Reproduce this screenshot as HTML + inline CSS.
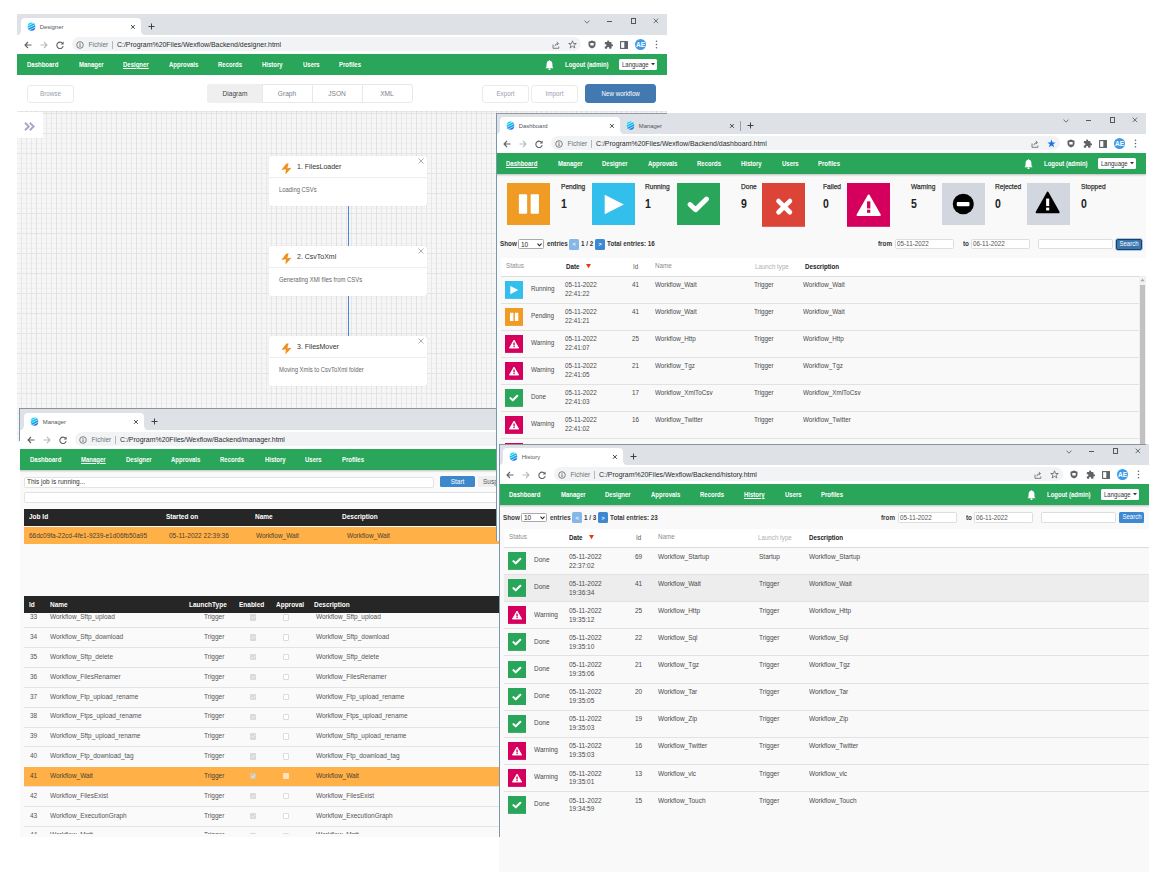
<!DOCTYPE html><html><head><meta charset="utf-8"><title>Wexflow</title><style>
*{margin:0;padding:0;box-sizing:content-box}
html,body{width:1159px;height:874px;overflow:hidden;background:#fff}
body{position:relative;font-family:"Liberation Sans",Arial,sans-serif}
.win{position:absolute;overflow:hidden}
.win div,.win svg{position:absolute}
.t{white-space:nowrap}
</style></head><body><div class="win" style="left:17px;top:14px;width:650px;height:428px;z-index:1;"><div style="left:0px;top:61px;width:650px;height:367px;background:#f6f6f6;background-image:linear-gradient(to right, #e1e1e1 1px, transparent 1px),linear-gradient(to bottom, #e3e3e3 1px, transparent 1px),linear-gradient(to right, #e7e7e7 1px, transparent 1px),linear-gradient(to bottom, #f0f0f0 1px, transparent 1px);background-size:20px 20px,20px 20px,5px 5px,5px 5px;background-position:-1px -2px,-1px -2px,-1px -2px,-1px -2px"></div><div style="left:0px;top:0px;width:650px;height:21px;background:#dee1e6"></div><div style="left:4px;top:4px;width:120px;height:18px;background:#fff;border-radius:4px 4px 0 0"></div><svg style="left:0px;top:16px;" width="5" height="5" viewBox="0 0 5 5"><path d="M0 5 Q4 5 4 0 L5 0 L5 5 Z" fill="#fff"/></svg><svg style="left:123px;top:16px;" width="5" height="5" viewBox="0 0 5 5"><path d="M5 5 Q1 5 1 0 L0 0 L0 5 Z" fill="#fff"/></svg><svg style="left:10px;top:8px;" width="9" height="9" viewBox="0 0 9 9"><defs><linearGradient id="wg1" x1="0.2" y1="0" x2="0.7" y2="1"><stop offset="0" stop-color="#10ecef"/><stop offset="1" stop-color="#1a66e6"/></linearGradient></defs><ellipse cx="4.5" cy="4.7" rx="3.8" ry="4.1" fill="url(#wg1)"/><path d="M0.4 4.2 L7.2 0.6 M0.4 6.6 L8.6 2.4 M1.6 8.6 L8.6 4.9" stroke="#fff" stroke-width="0.7" fill="none" opacity="0.9"/></svg><div class="t" style="left:22.8px;top:9.77px;font-size:5.9px;line-height:7.67px;color:#505459;font-weight:400;font-family:'Liberation Sans', Arial, sans-serif;">Designer</div><svg style="left:113.3px;top:10.3px;" width="6" height="6" viewBox="0 0 6 6"><path d="M1 1 L4.8 4.8 M4.8 1 L1 4.8" stroke="#3c4043" stroke-width="0.95"/></svg><svg style="left:130.9px;top:8.7px;" width="7" height="7" viewBox="0 0 7 7"><path d="M3.5 0.5 V6.5 M0.5 3.5 H6.5" stroke="#3c4043" stroke-width="1"/></svg><svg style="left:567px;top:5.5px;" width="6" height="4" viewBox="0 0 6 4"><path d="M0.5 0.6 L3 3.2 L5.5 0.6" stroke="#55585c" stroke-width="0.8" fill="none"/></svg><div style="left:589.5px;top:7.2px;width:5.2px;height:0.9px;background:#55585c"></div><div style="left:614px;top:4.4px;width:3px;height:3.8px;border:0.9px solid #55585c"></div><svg style="left:635.8px;top:4.4px;" width="6" height="6" viewBox="0 0 6 6"><path d="M0.7 0.7 L5.1 5.1 M5.1 0.7 L0.7 5.1" stroke="#55585c" stroke-width="0.85"/></svg><div style="left:0px;top:21px;width:650px;height:19px;background:#fff"></div><svg style="left:7px;top:26.6px;" width="8" height="8" viewBox="0 0 8 8"><path d="M7.5 4 H1.2 M4 1 L1 4 L4 7" stroke="#5f6368" stroke-width="1.1" fill="none"/></svg><svg style="left:23px;top:26.6px;" width="8" height="8" viewBox="0 0 8 8"><path d="M0.5 4 H6.8 M4 1 L7 4 L4 7" stroke="#b9bcbf" stroke-width="1.1" fill="none"/></svg><svg style="left:39px;top:26.6px;" width="8" height="8" viewBox="0 0 8 8"><path d="M6.6 2.4 A3.2 3.2 0 1 0 7.2 5" stroke="#5f6368" stroke-width="1.1" fill="none"/><path d="M7.6 0.6 V3.4 H4.8 Z" fill="#5f6368"/></svg><div style="left:55px;top:23px;width:509px;height:14px;background:#f1f3f4;border-radius:7px"></div><svg style="left:58.5px;top:26.5px;" width="8" height="8" viewBox="0 0 8 8"><circle cx="4" cy="4" r="3.3" stroke="#5f6368" stroke-width="0.8" fill="none"/><path d="M4 3.3 V6" stroke="#5f6368" stroke-width="0.9"/><circle cx="4" cy="2.2" r="0.5" fill="#5f6368"/></svg><div class="t" style="left:71.5px;top:26.71px;font-size:6.6px;line-height:8.58px;color:#6f7378;font-weight:400;font-family:'Liberation Sans', Arial, sans-serif;">Fichier</div><div style="left:95px;top:26.5px;width:0.7px;height:8px;background:#b4b8bc"></div><div class="t" style="left:100px;top:25.98px;font-size:6.95px;line-height:9.04px;color:#2a2b2e;font-weight:400;font-family:'Liberation Sans', Arial, sans-serif;">C:/Program%20Files/Wexflow/Backend/designer.html</div><svg style="left:535px;top:26.5px;" width="8" height="8" viewBox="0 0 8 8"><path d="M1 3.5 V7.3 H6.8 V5.5" stroke="#5f6368" stroke-width="0.8" fill="none"/><path d="M2.8 5.2 Q3.2 2.6 6 2.6 M4.8 1 L6.6 2.6 L4.8 4.2" stroke="#5f6368" stroke-width="0.8" fill="none"/></svg><svg style="left:550.5px;top:26px;z-index:1" width="9" height="9" viewBox="0 0 9 9"><path d="M4.5 0.8 L5.5 3.5 L8.3 3.5 L6 5.2 L6.9 8 L4.5 6.3 L2.1 8 L3 5.2 L0.7 3.5 L3.5 3.5 Z" stroke="#5f6368" stroke-width="0.8" fill="none" stroke-linejoin="round"/></svg><svg style="left:571px;top:26px;" width="8" height="9" viewBox="0 0 8 9"><path d="M4 0.5 L7.5 1.8 V4.5 Q7.5 7.3 4 8.5 Q0.5 7.3 0.5 4.5 V1.8 Z" fill="#5f6368"/><rect x="2.3" y="3" width="3.4" height="2.4" rx="0.5" fill="#fff"/></svg><svg style="left:586.5px;top:25.8px" width="9.5" height="9.5" viewBox="0 0 24 24"><path d="M20.5 11H19V7c0-1.1-.9-2-2-2h-4V3.5C13 2.12 11.88 1 10.5 1S8 2.120 8 3.5V5H4c-1.1 0-1.99.9-1.99 2v3.8H3.5c1.49 0 2.7 1.21 2.7 2.7s-1.21 2.7-2.7 2.7H2V20c0 1.1.9 2 2 2h3.8v-1.5c0-1.49 1.21-2.7 2.7-2.7 1.490 0 2.7 1.21 2.7 2.7V22H17c1.1 0 2-.9 2-2v-4h1.5c1.38 0 2.5-1.12 2.5-2.5S21.88 11 20.5 11z" fill="#5f6368"/></svg><svg style="left:603px;top:26.5px;" width="8" height="8" viewBox="0 0 8 8"><rect x="0.6" y="0.6" width="6.8" height="6.8" stroke="#5f6368" stroke-width="1.1" fill="none"/><rect x="4.3" y="0.6" width="3.1" height="6.8" fill="#5f6368"/></svg><svg style="left:617.5px;top:25px;" width="11" height="11" viewBox="0 0 11 11"><circle cx="5.5" cy="5.5" r="5.5" fill="#3d9be9"/><text x="5.5" y="8" font-size="6.5" text-anchor="middle" fill="#fff" font-family="Liberation Sans" font-weight="700">AE</text></svg><svg style="left:637.5px;top:26px;" width="3" height="9" viewBox="0 0 3 9"><circle cx="1.5" cy="1.2" r="0.8" fill="#5f6368"/><circle cx="1.5" cy="4.5" r="0.8" fill="#5f6368"/><circle cx="1.5" cy="7.8" r="0.8" fill="#5f6368"/></svg><div style="left:0px;top:40px;width:650px;height:21px;background:#2aa65a;box-shadow:0 1px 2px rgba(0,0,0,0.25)"></div><div class="t" style="left:10.3px;top:46.86px;font-size:6.82px;line-height:8.87px;color:#fff;font-weight:700;font-family:'Liberation Sans', Arial, sans-serif;transform:scaleX(0.88);transform-origin:0 50%;">Dashboard</div><div class="t" style="left:61.5px;top:46.86px;font-size:6.82px;line-height:8.87px;color:#fff;font-weight:700;font-family:'Liberation Sans', Arial, sans-serif;transform:scaleX(0.88);transform-origin:0 50%;">Manager</div><div class="t" style="left:106.4px;top:46.86px;font-size:6.82px;line-height:8.87px;color:#fff;font-weight:700;font-family:'Liberation Sans', Arial, sans-serif;transform:scaleX(0.88);transform-origin:0 50%;text-decoration:underline;text-underline-offset:1px;text-decoration-thickness:0.6px">Designer</div><div class="t" style="left:152px;top:46.86px;font-size:6.82px;line-height:8.87px;color:#fff;font-weight:700;font-family:'Liberation Sans', Arial, sans-serif;transform:scaleX(0.88);transform-origin:0 50%;">Approvals</div><div class="t" style="left:201.2px;top:46.86px;font-size:6.82px;line-height:8.87px;color:#fff;font-weight:700;font-family:'Liberation Sans', Arial, sans-serif;transform:scaleX(0.88);transform-origin:0 50%;">Records</div><div class="t" style="left:245.4px;top:46.86px;font-size:6.82px;line-height:8.87px;color:#fff;font-weight:700;font-family:'Liberation Sans', Arial, sans-serif;transform:scaleX(0.88);transform-origin:0 50%;">History</div><div class="t" style="left:285.9px;top:46.86px;font-size:6.82px;line-height:8.87px;color:#fff;font-weight:700;font-family:'Liberation Sans', Arial, sans-serif;transform:scaleX(0.88);transform-origin:0 50%;">Users</div><div class="t" style="left:322.4px;top:46.86px;font-size:6.82px;line-height:8.87px;color:#fff;font-weight:700;font-family:'Liberation Sans', Arial, sans-serif;transform:scaleX(0.88);transform-origin:0 50%;">Profiles</div><svg style="left:528px;top:45.6px;" width="9" height="10.4" viewBox="0 0 9 10.4"><path d="M4.5 0.8 Q7.6 1 7.4 4.6 L7.6 7.2 L8.6 8.2 H0.4 L1.4 7.2 L1.6 4.6 Q1.4 1 4.5 0.8 Z" fill="#fff"/><circle cx="4.5" cy="9.2" r="1" fill="#fff"/><circle cx="4.5" cy="0.9" r="0.7" fill="#fff"/></svg><div class="t" style="left:548px;top:46.86px;font-size:6.82px;line-height:8.87px;color:#fff;font-weight:700;font-family:'Liberation Sans', Arial, sans-serif;transform:scaleX(0.88);transform-origin:0 50%;">Logout (admin)</div><div style="left:602px;top:45px;width:38px;height:10.6px;background:#fff;border-radius:1.5px"></div><div class="t" style="left:605.4px;top:46.77px;font-size:6.82px;line-height:8.87px;color:#333;font-weight:400;font-family:'Liberation Sans', Arial, sans-serif;transform:scaleX(0.88);transform-origin:0 50%;">Language</div><svg style="left:633.5px;top:49.3px;" width="4" height="3" viewBox="0 0 4 3"><path d="M0 0 H4 L2 2.2 Z" fill="#333"/></svg><div style="left:0px;top:61px;width:650px;height:36px;background:#fff;box-shadow:0 1px 1px rgba(0,0,0,0.06)"></div><div style="left:10.4px;top:70.5px;width:47px;height:18px;background:#fff;border:1px solid #ebebeb;border-radius:3px;box-sizing:border-box"></div><div class="t" style="left:10.399999999999999px;top:75.64px;width:47px;text-align:center;font-size:7.16px;line-height:9.31px;color:#98a0b0;font-weight:400;font-family:'Liberation Sans', Arial, sans-serif;transform:scaleX(0.88);transform-origin:50% 50%;">Browse</div><div style="left:189.6px;top:70.3px;width:206px;height:18.7px;background:#fff;border:1px solid #e8e8e8;border-radius:3px;box-sizing:border-box"></div><div style="left:189.6px;top:70.3px;width:55.4px;height:18.7px;background:#efefef;border-radius:3px 0 0 3px"></div><div style="left:245px;top:70.3px;width:1px;height:18.7px;background:#e8e8e8"></div><div style="left:294.5px;top:70.3px;width:1px;height:18.7px;background:#e8e8e8"></div><div style="left:344.8px;top:70.3px;width:1px;height:18.7px;background:#e8e8e8"></div><div class="t" style="left:117.5px;top:75.42px;width:200px;text-align:center;font-size:7.5px;line-height:9.75px;color:#444;font-weight:400;font-family:'Liberation Sans', Arial, sans-serif;transform:scaleX(0.88);transform-origin:50% 50%;">Diagram</div><div class="t" style="left:170.0px;top:75.42px;width:200px;text-align:center;font-size:7.5px;line-height:9.75px;color:#7a7f8a;font-weight:400;font-family:'Liberation Sans', Arial, sans-serif;transform:scaleX(0.88);transform-origin:50% 50%;">Graph</div><div class="t" style="left:220.0px;top:75.42px;width:200px;text-align:center;font-size:7.5px;line-height:9.75px;color:#7a7f8a;font-weight:400;font-family:'Liberation Sans', Arial, sans-serif;transform:scaleX(0.88);transform-origin:50% 50%;">JSON</div><div class="t" style="left:270.3px;top:75.42px;width:200px;text-align:center;font-size:7.5px;line-height:9.75px;color:#7a7f8a;font-weight:400;font-family:'Liberation Sans', Arial, sans-serif;transform:scaleX(0.88);transform-origin:50% 50%;">XML</div><div style="left:464.7px;top:70.5px;width:47px;height:18px;background:#fff;border:1px solid #ebebeb;border-radius:3px;box-sizing:border-box"></div><div class="t" style="left:464.7px;top:75.64px;width:47px;text-align:center;font-size:7.16px;line-height:9.31px;color:#98a0b0;font-weight:400;font-family:'Liberation Sans', Arial, sans-serif;transform:scaleX(0.88);transform-origin:50% 50%;">Export</div><div style="left:513.7px;top:70.5px;width:47px;height:18px;background:#fff;border:1px solid #ebebeb;border-radius:3px;box-sizing:border-box"></div><div class="t" style="left:513.7px;top:75.64px;width:47px;text-align:center;font-size:7.16px;line-height:9.31px;color:#98a0b0;font-weight:400;font-family:'Liberation Sans', Arial, sans-serif;transform:scaleX(0.88);transform-origin:50% 50%;">Import</div><div style="left:568px;top:70px;width:71.4px;height:19px;background:#4279b0;border:1px solid #4279b0;border-radius:3px;box-sizing:border-box"></div><div class="t" style="left:568.0px;top:74.62px;width:71.4px;text-align:center;font-size:7.05px;line-height:9.17px;color:#fff;font-weight:400;font-family:'Liberation Sans', Arial, sans-serif;transform:scaleX(0.88);transform-origin:50% 50%;">New workflow</div><div style="left:0px;top:98px;width:26px;height:26px;background:#fff;border-radius:0 2px 2px 0"></div><svg style="left:7px;top:107.5px;" width="12" height="9" viewBox="0 0 12 9"><path d="M1 0.8 L4.8 4.5 L1 8.2 M5.8 0.8 L9.6 4.5 L5.8 8.2" stroke="#a3a8c8" stroke-width="1.9" fill="none"/></svg><div style="left:252px;top:142px;width:158px;height:50px;background:#fff;border-radius:3px;box-shadow:0 0 2px rgba(0,0,0,0.08)"></div><div style="left:252px;top:162.9px;width:158px;height:0.8px;background:#ededed"></div><svg style="left:264px;top:149.2px;" width="11" height="12" viewBox="0 0 11 12"><path d="M5.4 0.4 L0.4 6.9 L4.9 6.2 L4.4 11.4 L10.6 4.7 L6.3 5.3 L7.6 0.4 Z" fill="#ef8f1f"/></svg><div class="t" style="left:280px;top:147.83px;font-size:7.95px;line-height:10.34px;color:#333;font-weight:400;font-family:'Liberation Sans', Arial, sans-serif;transform:scaleX(0.88);transform-origin:0 50%;">1. FilesLoader</div><svg style="left:400.5px;top:144px;" width="6" height="6" viewBox="0 0 6 6"><path d="M0.5 0.5 L5.5 5.5 M5.5 0.5 L0.5 5.5" stroke="#999" stroke-width="0.8"/></svg><div class="t" style="left:262px;top:171.84px;font-size:6.7px;line-height:8.71px;color:#666;font-weight:400;font-family:'Liberation Sans', Arial, sans-serif;transform:scaleX(0.88);transform-origin:0 50%;">Loading CSVs</div><div style="left:331px;top:191.5px;width:1px;height:40.5px;background:#4a86e0"></div><div style="left:252px;top:232px;width:158px;height:50px;background:#fff;border-radius:3px;box-shadow:0 0 2px rgba(0,0,0,0.08)"></div><div style="left:252px;top:252.9px;width:158px;height:0.8px;background:#ededed"></div><svg style="left:264px;top:239.2px;" width="11" height="12" viewBox="0 0 11 12"><path d="M5.4 0.4 L0.4 6.9 L4.9 6.2 L4.4 11.4 L10.6 4.7 L6.3 5.3 L7.6 0.4 Z" fill="#ef8f1f"/></svg><div class="t" style="left:280px;top:237.83px;font-size:7.95px;line-height:10.34px;color:#333;font-weight:400;font-family:'Liberation Sans', Arial, sans-serif;transform:scaleX(0.88);transform-origin:0 50%;">2. CsvToXml</div><svg style="left:400.5px;top:234px;" width="6" height="6" viewBox="0 0 6 6"><path d="M0.5 0.5 L5.5 5.5 M5.5 0.5 L0.5 5.5" stroke="#999" stroke-width="0.8"/></svg><div class="t" style="left:262px;top:261.84px;font-size:6.7px;line-height:8.71px;color:#666;font-weight:400;font-family:'Liberation Sans', Arial, sans-serif;transform:scaleX(0.88);transform-origin:0 50%;">Generating XMl files from CSVs</div><div style="left:331px;top:281.5px;width:1px;height:40.5px;background:#4a86e0"></div><div style="left:252px;top:322px;width:158px;height:50px;background:#fff;border-radius:3px;box-shadow:0 0 2px rgba(0,0,0,0.08)"></div><div style="left:252px;top:342.9px;width:158px;height:0.8px;background:#ededed"></div><svg style="left:264px;top:329.2px;" width="11" height="12" viewBox="0 0 11 12"><path d="M5.4 0.4 L0.4 6.9 L4.9 6.2 L4.4 11.4 L10.6 4.7 L6.3 5.3 L7.6 0.4 Z" fill="#ef8f1f"/></svg><div class="t" style="left:280px;top:327.83px;font-size:7.95px;line-height:10.34px;color:#333;font-weight:400;font-family:'Liberation Sans', Arial, sans-serif;transform:scaleX(0.88);transform-origin:0 50%;">3. FilesMover</div><svg style="left:400.5px;top:324px;" width="6" height="6" viewBox="0 0 6 6"><path d="M0.5 0.5 L5.5 5.5 M5.5 0.5 L0.5 5.5" stroke="#999" stroke-width="0.8"/></svg><div class="t" style="left:262px;top:351.84px;font-size:6.7px;line-height:8.71px;color:#666;font-weight:400;font-family:'Liberation Sans', Arial, sans-serif;transform:scaleX(0.88);transform-origin:0 50%;">Moving Xmls to CsvToXml folder</div></div><div class="win" style="left:20px;top:409px;width:650px;height:428px;z-index:2;"><div style="left:0px;top:0px;width:650px;height:429px;background:#fafafa"></div><div style="left:0px;top:0px;width:650px;height:21px;background:#dee1e6"></div><div style="left:4px;top:4px;width:120px;height:18px;background:#fff;border-radius:4px 4px 0 0"></div><svg style="left:0px;top:16px;" width="5" height="5" viewBox="0 0 5 5"><path d="M0 5 Q4 5 4 0 L5 0 L5 5 Z" fill="#fff"/></svg><svg style="left:123px;top:16px;" width="5" height="5" viewBox="0 0 5 5"><path d="M5 5 Q1 5 1 0 L0 0 L0 5 Z" fill="#fff"/></svg><svg style="left:10px;top:8px;" width="9" height="9" viewBox="0 0 9 9"><defs><linearGradient id="wg2" x1="0.2" y1="0" x2="0.7" y2="1"><stop offset="0" stop-color="#10ecef"/><stop offset="1" stop-color="#1a66e6"/></linearGradient></defs><ellipse cx="4.5" cy="4.7" rx="3.8" ry="4.1" fill="url(#wg2)"/><path d="M0.4 4.2 L7.2 0.6 M0.4 6.6 L8.6 2.4 M1.6 8.6 L8.6 4.9" stroke="#fff" stroke-width="0.7" fill="none" opacity="0.9"/></svg><div class="t" style="left:22.8px;top:9.77px;font-size:5.9px;line-height:7.67px;color:#505459;font-weight:400;font-family:'Liberation Sans', Arial, sans-serif;">Manager</div><svg style="left:113.3px;top:10.3px;" width="6" height="6" viewBox="0 0 6 6"><path d="M1 1 L4.8 4.8 M4.8 1 L1 4.8" stroke="#3c4043" stroke-width="0.95"/></svg><svg style="left:130.9px;top:8.7px;" width="7" height="7" viewBox="0 0 7 7"><path d="M3.5 0.5 V6.5 M0.5 3.5 H6.5" stroke="#3c4043" stroke-width="1"/></svg><svg style="left:567px;top:5.5px;" width="6" height="4" viewBox="0 0 6 4"><path d="M0.5 0.6 L3 3.2 L5.5 0.6" stroke="#55585c" stroke-width="0.8" fill="none"/></svg><div style="left:589.5px;top:7.2px;width:5.2px;height:0.9px;background:#55585c"></div><div style="left:614px;top:4.4px;width:3px;height:3.8px;border:0.9px solid #55585c"></div><svg style="left:635.8px;top:4.4px;" width="6" height="6" viewBox="0 0 6 6"><path d="M0.7 0.7 L5.1 5.1 M5.1 0.7 L0.7 5.1" stroke="#55585c" stroke-width="0.85"/></svg><div style="left:0px;top:21px;width:650px;height:19px;background:#fff"></div><svg style="left:7px;top:26.6px;" width="8" height="8" viewBox="0 0 8 8"><path d="M7.5 4 H1.2 M4 1 L1 4 L4 7" stroke="#5f6368" stroke-width="1.1" fill="none"/></svg><svg style="left:23px;top:26.6px;" width="8" height="8" viewBox="0 0 8 8"><path d="M0.5 4 H6.8 M4 1 L7 4 L4 7" stroke="#b9bcbf" stroke-width="1.1" fill="none"/></svg><svg style="left:39px;top:26.6px;" width="8" height="8" viewBox="0 0 8 8"><path d="M6.6 2.4 A3.2 3.2 0 1 0 7.2 5" stroke="#5f6368" stroke-width="1.1" fill="none"/><path d="M7.6 0.6 V3.4 H4.8 Z" fill="#5f6368"/></svg><div style="left:55px;top:23px;width:509px;height:14px;background:#f1f3f4;border-radius:7px"></div><svg style="left:58.5px;top:26.5px;" width="8" height="8" viewBox="0 0 8 8"><circle cx="4" cy="4" r="3.3" stroke="#5f6368" stroke-width="0.8" fill="none"/><path d="M4 3.3 V6" stroke="#5f6368" stroke-width="0.9"/><circle cx="4" cy="2.2" r="0.5" fill="#5f6368"/></svg><div class="t" style="left:71.5px;top:26.71px;font-size:6.6px;line-height:8.58px;color:#6f7378;font-weight:400;font-family:'Liberation Sans', Arial, sans-serif;">Fichier</div><div style="left:95px;top:26.5px;width:0.7px;height:8px;background:#b4b8bc"></div><div class="t" style="left:100px;top:25.98px;font-size:6.95px;line-height:9.04px;color:#2a2b2e;font-weight:400;font-family:'Liberation Sans', Arial, sans-serif;">C:/Program%20Files/Wexflow/Backend/manager.html</div><svg style="left:535px;top:26.5px;" width="8" height="8" viewBox="0 0 8 8"><path d="M1 3.5 V7.3 H6.8 V5.5" stroke="#5f6368" stroke-width="0.8" fill="none"/><path d="M2.8 5.2 Q3.2 2.6 6 2.6 M4.8 1 L6.6 2.6 L4.8 4.2" stroke="#5f6368" stroke-width="0.8" fill="none"/></svg><svg style="left:550.5px;top:26px;z-index:1" width="9" height="9" viewBox="0 0 9 9"><path d="M4.5 0.8 L5.5 3.5 L8.3 3.5 L6 5.2 L6.9 8 L4.5 6.3 L2.1 8 L3 5.2 L0.7 3.5 L3.5 3.5 Z" stroke="#5f6368" stroke-width="0.8" fill="none" stroke-linejoin="round"/></svg><svg style="left:571px;top:26px;" width="8" height="9" viewBox="0 0 8 9"><path d="M4 0.5 L7.5 1.8 V4.5 Q7.5 7.3 4 8.5 Q0.5 7.3 0.5 4.5 V1.8 Z" fill="#5f6368"/><rect x="2.3" y="3" width="3.4" height="2.4" rx="0.5" fill="#fff"/></svg><svg style="left:586.5px;top:25.8px" width="9.5" height="9.5" viewBox="0 0 24 24"><path d="M20.5 11H19V7c0-1.1-.9-2-2-2h-4V3.5C13 2.12 11.88 1 10.5 1S8 2.120 8 3.5V5H4c-1.1 0-1.99.9-1.99 2v3.8H3.5c1.49 0 2.7 1.21 2.7 2.7s-1.21 2.7-2.7 2.7H2V20c0 1.1.9 2 2 2h3.8v-1.5c0-1.49 1.21-2.7 2.7-2.7 1.490 0 2.7 1.21 2.7 2.7V22H17c1.1 0 2-.9 2-2v-4h1.5c1.38 0 2.5-1.12 2.5-2.5S21.88 11 20.5 11z" fill="#5f6368"/></svg><svg style="left:603px;top:26.5px;" width="8" height="8" viewBox="0 0 8 8"><rect x="0.6" y="0.6" width="6.8" height="6.8" stroke="#5f6368" stroke-width="1.1" fill="none"/><rect x="4.3" y="0.6" width="3.1" height="6.8" fill="#5f6368"/></svg><svg style="left:617.5px;top:25px;" width="11" height="11" viewBox="0 0 11 11"><circle cx="5.5" cy="5.5" r="5.5" fill="#3d9be9"/><text x="5.5" y="8" font-size="6.5" text-anchor="middle" fill="#fff" font-family="Liberation Sans" font-weight="700">AE</text></svg><svg style="left:637.5px;top:26px;" width="3" height="9" viewBox="0 0 3 9"><circle cx="1.5" cy="1.2" r="0.8" fill="#5f6368"/><circle cx="1.5" cy="4.5" r="0.8" fill="#5f6368"/><circle cx="1.5" cy="7.8" r="0.8" fill="#5f6368"/></svg><div style="left:-0.8px;top:39.8px;width:650px;height:21px;background:#2aa65a;box-shadow:0 1px 2px rgba(0,0,0,0.25)"></div><div class="t" style="left:9.5px;top:46.66px;font-size:6.82px;line-height:8.87px;color:#fff;font-weight:700;font-family:'Liberation Sans', Arial, sans-serif;transform:scaleX(0.88);transform-origin:0 50%;">Dashboard</div><div class="t" style="left:60.7px;top:46.66px;font-size:6.82px;line-height:8.87px;color:#fff;font-weight:700;font-family:'Liberation Sans', Arial, sans-serif;transform:scaleX(0.88);transform-origin:0 50%;text-decoration:underline;text-underline-offset:1px;text-decoration-thickness:0.6px">Manager</div><div class="t" style="left:105.6px;top:46.66px;font-size:6.82px;line-height:8.87px;color:#fff;font-weight:700;font-family:'Liberation Sans', Arial, sans-serif;transform:scaleX(0.88);transform-origin:0 50%;">Designer</div><div class="t" style="left:151.2px;top:46.66px;font-size:6.82px;line-height:8.87px;color:#fff;font-weight:700;font-family:'Liberation Sans', Arial, sans-serif;transform:scaleX(0.88);transform-origin:0 50%;">Approvals</div><div class="t" style="left:200.4px;top:46.66px;font-size:6.82px;line-height:8.87px;color:#fff;font-weight:700;font-family:'Liberation Sans', Arial, sans-serif;transform:scaleX(0.88);transform-origin:0 50%;">Records</div><div class="t" style="left:244.6px;top:46.66px;font-size:6.82px;line-height:8.87px;color:#fff;font-weight:700;font-family:'Liberation Sans', Arial, sans-serif;transform:scaleX(0.88);transform-origin:0 50%;">History</div><div class="t" style="left:285.1px;top:46.66px;font-size:6.82px;line-height:8.87px;color:#fff;font-weight:700;font-family:'Liberation Sans', Arial, sans-serif;transform:scaleX(0.88);transform-origin:0 50%;">Users</div><div class="t" style="left:321.6px;top:46.66px;font-size:6.82px;line-height:8.87px;color:#fff;font-weight:700;font-family:'Liberation Sans', Arial, sans-serif;transform:scaleX(0.88);transform-origin:0 50%;">Profiles</div><svg style="left:527.2px;top:45.4px;" width="9" height="10.4" viewBox="0 0 9 10.4"><path d="M4.5 0.8 Q7.6 1 7.4 4.6 L7.6 7.2 L8.6 8.2 H0.4 L1.4 7.2 L1.6 4.6 Q1.4 1 4.5 0.8 Z" fill="#fff"/><circle cx="4.5" cy="9.2" r="1" fill="#fff"/><circle cx="4.5" cy="0.9" r="0.7" fill="#fff"/></svg><div class="t" style="left:547.2px;top:46.66px;font-size:6.82px;line-height:8.87px;color:#fff;font-weight:700;font-family:'Liberation Sans', Arial, sans-serif;transform:scaleX(0.88);transform-origin:0 50%;">Logout (admin)</div><div style="left:601.2px;top:44.8px;width:38px;height:10.6px;background:#fff;border-radius:1.5px"></div><div class="t" style="left:604.6px;top:46.56px;font-size:6.82px;line-height:8.87px;color:#333;font-weight:400;font-family:'Liberation Sans', Arial, sans-serif;transform:scaleX(0.88);transform-origin:0 50%;">Language</div><svg style="left:632.7px;top:49.1px;" width="4" height="3" viewBox="0 0 4 3"><path d="M0 0 H4 L2 2.2 Z" fill="#333"/></svg><div style="left:4.4px;top:67.6px;width:409.5px;height:11.8px;background:#fff;border:1px solid #e3e3e3;border-radius:2px;box-sizing:border-box"></div><div class="t" style="left:6.9px;top:67.9px;font-size:7.39px;line-height:9.61px;color:#333;font-weight:400;font-family:'Liberation Sans', Arial, sans-serif;transform:scaleX(0.88);transform-origin:0 50%;">This job is running...</div><div style="left:419.5px;top:67.0px;width:35.3px;height:10.8px;background:#3d88cc;border-radius:1.5px"></div><div class="t" style="left:419.6px;top:67.59px;width:35px;text-align:center;font-size:7.39px;line-height:9.61px;color:#fff;font-weight:400;font-family:'Liberation Sans', Arial, sans-serif;transform:scaleX(0.88);transform-origin:50% 50%;">Start</div><div style="left:457.6px;top:67.0px;width:40px;height:10.8px;background:#efefef;border-radius:1.5px"></div><div class="t" style="left:463.0px;top:67.59px;font-size:7.39px;line-height:9.61px;color:#555;font-weight:400;font-family:'Liberation Sans', Arial, sans-serif;transform:scaleX(0.88);transform-origin:0 50%;">Suspend</div><div style="left:4.4px;top:82.5px;width:640px;height:11.6px;background:#fff;border:1px solid #e3e3e3;border-radius:2px;box-sizing:border-box"></div><div style="left:4.4px;top:99.6px;width:640px;height:17.1px;background:#262626"></div><div class="t" style="left:9.1px;top:103.19px;font-size:7.39px;line-height:9.61px;color:#fff;font-weight:700;font-family:'Liberation Sans', Arial, sans-serif;transform:scaleX(0.88);transform-origin:0 50%;">Job Id</div><div class="t" style="left:146.0px;top:103.19px;font-size:7.39px;line-height:9.61px;color:#fff;font-weight:700;font-family:'Liberation Sans', Arial, sans-serif;transform:scaleX(0.88);transform-origin:0 50%;">Started on</div><div class="t" style="left:235.3px;top:103.19px;font-size:7.39px;line-height:9.61px;color:#fff;font-weight:700;font-family:'Liberation Sans', Arial, sans-serif;transform:scaleX(0.88);transform-origin:0 50%;">Name</div><div class="t" style="left:321.6px;top:103.19px;font-size:7.39px;line-height:9.61px;color:#fff;font-weight:700;font-family:'Liberation Sans', Arial, sans-serif;transform:scaleX(0.88);transform-origin:0 50%;">Description</div><div style="left:4.4px;top:118.0px;width:640px;height:16.8px;background:#ffb047"></div><div class="t" style="left:9.1px;top:121.9px;font-size:7.39px;line-height:9.61px;color:#4a4232;font-weight:400;font-family:'Liberation Sans', Arial, sans-serif;transform:scaleX(0.88);transform-origin:0 50%;">66dc09fa-22cd-4fe1-9239-e1d06fb50a95</div><div class="t" style="left:149.1px;top:121.9px;font-size:7.39px;line-height:9.61px;color:#4a4232;font-weight:400;font-family:'Liberation Sans', Arial, sans-serif;transform:scaleX(0.88);transform-origin:0 50%;">05-11-2022 22:39:36</div><div class="t" style="left:236.2px;top:121.9px;font-size:7.39px;line-height:9.61px;color:#4a4232;font-weight:400;font-family:'Liberation Sans', Arial, sans-serif;transform:scaleX(0.88);transform-origin:0 50%;">Workflow_Wait</div><div class="t" style="left:326.8px;top:121.9px;font-size:7.39px;line-height:9.61px;color:#4a4232;font-weight:400;font-family:'Liberation Sans', Arial, sans-serif;transform:scaleX(0.88);transform-origin:0 50%;">Workflow_Wait</div><div style="left:4.4px;top:187.2px;width:640px;height:17.3px;background:#262626;z-index:2"></div><div class="t" style="left:8.9px;top:190.99px;font-size:7.39px;line-height:9.61px;color:#fff;font-weight:700;font-family:'Liberation Sans', Arial, sans-serif;transform:scaleX(0.88);transform-origin:0 50%;z-index:3">Id</div><div class="t" style="left:30.4px;top:190.99px;font-size:7.39px;line-height:9.61px;color:#fff;font-weight:700;font-family:'Liberation Sans', Arial, sans-serif;transform:scaleX(0.88);transform-origin:0 50%;z-index:3">Name</div><div class="t" style="left:169.3px;top:190.99px;font-size:7.39px;line-height:9.61px;color:#fff;font-weight:700;font-family:'Liberation Sans', Arial, sans-serif;transform:scaleX(0.88);transform-origin:0 50%;z-index:3">LaunchType</div><div class="t" style="left:218.9px;top:190.99px;font-size:7.39px;line-height:9.61px;color:#fff;font-weight:700;font-family:'Liberation Sans', Arial, sans-serif;transform:scaleX(0.88);transform-origin:0 50%;z-index:3">Enabled</div><div class="t" style="left:256.0px;top:190.99px;font-size:7.39px;line-height:9.61px;color:#fff;font-weight:700;font-family:'Liberation Sans', Arial, sans-serif;transform:scaleX(0.88);transform-origin:0 50%;z-index:3">Approval</div><div class="t" style="left:293.6px;top:190.99px;font-size:7.39px;line-height:9.61px;color:#fff;font-weight:700;font-family:'Liberation Sans', Arial, sans-serif;transform:scaleX(0.88);transform-origin:0 50%;z-index:3">Description</div><div class="t" style="left:9.6px;top:203.09px;font-size:7.39px;line-height:9.61px;color:#555;font-weight:400;font-family:'Liberation Sans', Arial, sans-serif;transform:scaleX(0.88);transform-origin:0 50%;">33</div><div class="t" style="left:30.4px;top:203.09px;font-size:7.39px;line-height:9.61px;color:#555;font-weight:400;font-family:'Liberation Sans', Arial, sans-serif;transform:scaleX(0.88);transform-origin:0 50%;">Workflow_Sftp_upload</div><div class="t" style="left:183.6px;top:203.09px;font-size:7.39px;line-height:9.61px;color:#555;font-weight:400;font-family:'Liberation Sans', Arial, sans-serif;transform:scaleX(0.88);transform-origin:0 50%;">Trigger</div><div style="left:229.7px;top:205.3px;width:6.4px;height:6.4px;background:#dadada;border-radius:1px"></div><svg style="left:229.7px;top:205.3px;" width="6.4" height="6.4" viewBox="0 0 6.4 6.4"><path d="M1.5 3.3 L2.7 4.5 L5 1.9" stroke="#f2f2f2" stroke-width="0.9" fill="none"/></svg><div style="left:262.8px;top:205.3px;width:6.4px;height:6.4px;background:#fff;border:0.8px solid #dcdcdc;border-radius:1px;box-sizing:border-box"></div><div class="t" style="left:295.7px;top:203.09px;font-size:7.39px;line-height:9.61px;color:#555;font-weight:400;font-family:'Liberation Sans', Arial, sans-serif;transform:scaleX(0.88);transform-origin:0 50%;">Workflow_Sftp_upload</div><div style="left:4.4px;top:218.35px;width:640px;height:0.9px;background:#e4e4e4"></div><div class="t" style="left:9.6px;top:222.94px;font-size:7.39px;line-height:9.61px;color:#555;font-weight:400;font-family:'Liberation Sans', Arial, sans-serif;transform:scaleX(0.88);transform-origin:0 50%;">34</div><div class="t" style="left:30.4px;top:222.94px;font-size:7.39px;line-height:9.61px;color:#555;font-weight:400;font-family:'Liberation Sans', Arial, sans-serif;transform:scaleX(0.88);transform-origin:0 50%;">Workflow_Sftp_download</div><div class="t" style="left:183.6px;top:222.94px;font-size:7.39px;line-height:9.61px;color:#555;font-weight:400;font-family:'Liberation Sans', Arial, sans-serif;transform:scaleX(0.88);transform-origin:0 50%;">Trigger</div><div style="left:229.7px;top:225.15px;width:6.4px;height:6.4px;background:#dadada;border-radius:1px"></div><svg style="left:229.7px;top:225.15px;" width="6.4" height="6.4" viewBox="0 0 6.4 6.4"><path d="M1.5 3.3 L2.7 4.5 L5 1.9" stroke="#f2f2f2" stroke-width="0.9" fill="none"/></svg><div style="left:262.8px;top:225.15px;width:6.4px;height:6.4px;background:#fff;border:0.8px solid #dcdcdc;border-radius:1px;box-sizing:border-box"></div><div class="t" style="left:295.7px;top:222.94px;font-size:7.39px;line-height:9.61px;color:#555;font-weight:400;font-family:'Liberation Sans', Arial, sans-serif;transform:scaleX(0.88);transform-origin:0 50%;">Workflow_Sftp_download</div><div style="left:4.4px;top:238.2px;width:640px;height:0.9px;background:#e4e4e4"></div><div class="t" style="left:9.6px;top:242.79px;font-size:7.39px;line-height:9.61px;color:#555;font-weight:400;font-family:'Liberation Sans', Arial, sans-serif;transform:scaleX(0.88);transform-origin:0 50%;">35</div><div class="t" style="left:30.4px;top:242.79px;font-size:7.39px;line-height:9.61px;color:#555;font-weight:400;font-family:'Liberation Sans', Arial, sans-serif;transform:scaleX(0.88);transform-origin:0 50%;">Workflow_Sftp_delete</div><div class="t" style="left:183.6px;top:242.79px;font-size:7.39px;line-height:9.61px;color:#555;font-weight:400;font-family:'Liberation Sans', Arial, sans-serif;transform:scaleX(0.88);transform-origin:0 50%;">Trigger</div><div style="left:229.7px;top:245.0px;width:6.4px;height:6.4px;background:#dadada;border-radius:1px"></div><svg style="left:229.7px;top:245.0px;" width="6.4" height="6.4" viewBox="0 0 6.4 6.4"><path d="M1.5 3.3 L2.7 4.5 L5 1.9" stroke="#f2f2f2" stroke-width="0.9" fill="none"/></svg><div style="left:262.8px;top:245.0px;width:6.4px;height:6.4px;background:#fff;border:0.8px solid #dcdcdc;border-radius:1px;box-sizing:border-box"></div><div class="t" style="left:295.7px;top:242.79px;font-size:7.39px;line-height:9.61px;color:#555;font-weight:400;font-family:'Liberation Sans', Arial, sans-serif;transform:scaleX(0.88);transform-origin:0 50%;">Workflow_Sftp_delete</div><div style="left:4.4px;top:258.05px;width:640px;height:0.9px;background:#e4e4e4"></div><div class="t" style="left:9.6px;top:262.64px;font-size:7.39px;line-height:9.61px;color:#555;font-weight:400;font-family:'Liberation Sans', Arial, sans-serif;transform:scaleX(0.88);transform-origin:0 50%;">36</div><div class="t" style="left:30.4px;top:262.64px;font-size:7.39px;line-height:9.61px;color:#555;font-weight:400;font-family:'Liberation Sans', Arial, sans-serif;transform:scaleX(0.88);transform-origin:0 50%;">Workflow_FilesRenamer</div><div class="t" style="left:183.6px;top:262.64px;font-size:7.39px;line-height:9.61px;color:#555;font-weight:400;font-family:'Liberation Sans', Arial, sans-serif;transform:scaleX(0.88);transform-origin:0 50%;">Trigger</div><div style="left:229.7px;top:264.85px;width:6.4px;height:6.4px;background:#dadada;border-radius:1px"></div><svg style="left:229.7px;top:264.85px;" width="6.4" height="6.4" viewBox="0 0 6.4 6.4"><path d="M1.5 3.3 L2.7 4.5 L5 1.9" stroke="#f2f2f2" stroke-width="0.9" fill="none"/></svg><div style="left:262.8px;top:264.85px;width:6.4px;height:6.4px;background:#fff;border:0.8px solid #dcdcdc;border-radius:1px;box-sizing:border-box"></div><div class="t" style="left:295.7px;top:262.64px;font-size:7.39px;line-height:9.61px;color:#555;font-weight:400;font-family:'Liberation Sans', Arial, sans-serif;transform:scaleX(0.88);transform-origin:0 50%;">Workflow_FilesRenamer</div><div style="left:4.4px;top:277.9px;width:640px;height:0.9px;background:#e4e4e4"></div><div class="t" style="left:9.6px;top:282.5px;font-size:7.39px;line-height:9.61px;color:#555;font-weight:400;font-family:'Liberation Sans', Arial, sans-serif;transform:scaleX(0.88);transform-origin:0 50%;">37</div><div class="t" style="left:30.4px;top:282.5px;font-size:7.39px;line-height:9.61px;color:#555;font-weight:400;font-family:'Liberation Sans', Arial, sans-serif;transform:scaleX(0.88);transform-origin:0 50%;">Workflow_Ftp_upload_rename</div><div class="t" style="left:183.6px;top:282.5px;font-size:7.39px;line-height:9.61px;color:#555;font-weight:400;font-family:'Liberation Sans', Arial, sans-serif;transform:scaleX(0.88);transform-origin:0 50%;">Trigger</div><div style="left:229.7px;top:284.7px;width:6.4px;height:6.4px;background:#dadada;border-radius:1px"></div><svg style="left:229.7px;top:284.7px;" width="6.4" height="6.4" viewBox="0 0 6.4 6.4"><path d="M1.5 3.3 L2.7 4.5 L5 1.9" stroke="#f2f2f2" stroke-width="0.9" fill="none"/></svg><div style="left:262.8px;top:284.7px;width:6.4px;height:6.4px;background:#fff;border:0.8px solid #dcdcdc;border-radius:1px;box-sizing:border-box"></div><div class="t" style="left:295.7px;top:282.5px;font-size:7.39px;line-height:9.61px;color:#555;font-weight:400;font-family:'Liberation Sans', Arial, sans-serif;transform:scaleX(0.88);transform-origin:0 50%;">Workflow_Ftp_upload_rename</div><div style="left:4.4px;top:297.75px;width:640px;height:0.9px;background:#e4e4e4"></div><div class="t" style="left:9.6px;top:302.34px;font-size:7.39px;line-height:9.61px;color:#555;font-weight:400;font-family:'Liberation Sans', Arial, sans-serif;transform:scaleX(0.88);transform-origin:0 50%;">38</div><div class="t" style="left:30.4px;top:302.34px;font-size:7.39px;line-height:9.61px;color:#555;font-weight:400;font-family:'Liberation Sans', Arial, sans-serif;transform:scaleX(0.88);transform-origin:0 50%;">Workflow_Ftps_upload_rename</div><div class="t" style="left:183.6px;top:302.34px;font-size:7.39px;line-height:9.61px;color:#555;font-weight:400;font-family:'Liberation Sans', Arial, sans-serif;transform:scaleX(0.88);transform-origin:0 50%;">Trigger</div><div style="left:229.7px;top:304.55px;width:6.4px;height:6.4px;background:#dadada;border-radius:1px"></div><svg style="left:229.7px;top:304.55px;" width="6.4" height="6.4" viewBox="0 0 6.4 6.4"><path d="M1.5 3.3 L2.7 4.5 L5 1.9" stroke="#f2f2f2" stroke-width="0.9" fill="none"/></svg><div style="left:262.8px;top:304.55px;width:6.4px;height:6.4px;background:#fff;border:0.8px solid #dcdcdc;border-radius:1px;box-sizing:border-box"></div><div class="t" style="left:295.7px;top:302.34px;font-size:7.39px;line-height:9.61px;color:#555;font-weight:400;font-family:'Liberation Sans', Arial, sans-serif;transform:scaleX(0.88);transform-origin:0 50%;">Workflow_Ftps_upload_rename</div><div style="left:4.4px;top:317.6px;width:640px;height:0.9px;background:#e4e4e4"></div><div class="t" style="left:9.6px;top:322.19px;font-size:7.39px;line-height:9.61px;color:#555;font-weight:400;font-family:'Liberation Sans', Arial, sans-serif;transform:scaleX(0.88);transform-origin:0 50%;">39</div><div class="t" style="left:30.4px;top:322.19px;font-size:7.39px;line-height:9.61px;color:#555;font-weight:400;font-family:'Liberation Sans', Arial, sans-serif;transform:scaleX(0.88);transform-origin:0 50%;">Workflow_Sftp_upload_rename</div><div class="t" style="left:183.6px;top:322.19px;font-size:7.39px;line-height:9.61px;color:#555;font-weight:400;font-family:'Liberation Sans', Arial, sans-serif;transform:scaleX(0.88);transform-origin:0 50%;">Trigger</div><div style="left:229.7px;top:324.4px;width:6.4px;height:6.4px;background:#dadada;border-radius:1px"></div><svg style="left:229.7px;top:324.4px;" width="6.4" height="6.4" viewBox="0 0 6.4 6.4"><path d="M1.5 3.3 L2.7 4.5 L5 1.9" stroke="#f2f2f2" stroke-width="0.9" fill="none"/></svg><div style="left:262.8px;top:324.4px;width:6.4px;height:6.4px;background:#fff;border:0.8px solid #dcdcdc;border-radius:1px;box-sizing:border-box"></div><div class="t" style="left:295.7px;top:322.19px;font-size:7.39px;line-height:9.61px;color:#555;font-weight:400;font-family:'Liberation Sans', Arial, sans-serif;transform:scaleX(0.88);transform-origin:0 50%;">Workflow_Sftp_upload_rename</div><div style="left:4.4px;top:337.45px;width:640px;height:0.9px;background:#e4e4e4"></div><div class="t" style="left:9.6px;top:342.04px;font-size:7.39px;line-height:9.61px;color:#555;font-weight:400;font-family:'Liberation Sans', Arial, sans-serif;transform:scaleX(0.88);transform-origin:0 50%;">40</div><div class="t" style="left:30.4px;top:342.04px;font-size:7.39px;line-height:9.61px;color:#555;font-weight:400;font-family:'Liberation Sans', Arial, sans-serif;transform:scaleX(0.88);transform-origin:0 50%;">Workflow_Ftp_download_tag</div><div class="t" style="left:183.6px;top:342.04px;font-size:7.39px;line-height:9.61px;color:#555;font-weight:400;font-family:'Liberation Sans', Arial, sans-serif;transform:scaleX(0.88);transform-origin:0 50%;">Trigger</div><div style="left:229.7px;top:344.25px;width:6.4px;height:6.4px;background:#dadada;border-radius:1px"></div><svg style="left:229.7px;top:344.25px;" width="6.4" height="6.4" viewBox="0 0 6.4 6.4"><path d="M1.5 3.3 L2.7 4.5 L5 1.9" stroke="#f2f2f2" stroke-width="0.9" fill="none"/></svg><div style="left:262.8px;top:344.25px;width:6.4px;height:6.4px;background:#fff;border:0.8px solid #dcdcdc;border-radius:1px;box-sizing:border-box"></div><div class="t" style="left:295.7px;top:342.04px;font-size:7.39px;line-height:9.61px;color:#555;font-weight:400;font-family:'Liberation Sans', Arial, sans-serif;transform:scaleX(0.88);transform-origin:0 50%;">Workflow_Ftp_download_tag</div><div style="left:4.4px;top:357.7px;width:640px;height:19.8px;background:#ffb047"></div><div class="t" style="left:9.6px;top:361.89px;font-size:7.39px;line-height:9.61px;color:#4a4232;font-weight:400;font-family:'Liberation Sans', Arial, sans-serif;transform:scaleX(0.88);transform-origin:0 50%;">41</div><div class="t" style="left:30.4px;top:361.89px;font-size:7.39px;line-height:9.61px;color:#4a4232;font-weight:400;font-family:'Liberation Sans', Arial, sans-serif;transform:scaleX(0.88);transform-origin:0 50%;">Workflow_Wait</div><div class="t" style="left:183.6px;top:361.89px;font-size:7.39px;line-height:9.61px;color:#4a4232;font-weight:400;font-family:'Liberation Sans', Arial, sans-serif;transform:scaleX(0.88);transform-origin:0 50%;">Trigger</div><div style="left:229.7px;top:364.1px;width:6.4px;height:6.4px;background:#d8c6a8;border-radius:1px"></div><svg style="left:229.7px;top:364.1px;" width="6.4" height="6.4" viewBox="0 0 6.4 6.4"><path d="M1.5 3.3 L2.7 4.5 L5 1.9" stroke="#f4efe6" stroke-width="0.9" fill="none"/></svg><div style="left:262.8px;top:364.1px;width:6.4px;height:6.4px;background:#fde3bd;border-radius:1px"></div><div class="t" style="left:295.7px;top:361.89px;font-size:7.39px;line-height:9.61px;color:#4a4232;font-weight:400;font-family:'Liberation Sans', Arial, sans-serif;transform:scaleX(0.88);transform-origin:0 50%;">Workflow_Wait</div><div style="left:4.4px;top:377.15px;width:640px;height:0.9px;background:#e4e4e4"></div><div class="t" style="left:9.6px;top:381.75px;font-size:7.39px;line-height:9.61px;color:#555;font-weight:400;font-family:'Liberation Sans', Arial, sans-serif;transform:scaleX(0.88);transform-origin:0 50%;">42</div><div class="t" style="left:30.4px;top:381.75px;font-size:7.39px;line-height:9.61px;color:#555;font-weight:400;font-family:'Liberation Sans', Arial, sans-serif;transform:scaleX(0.88);transform-origin:0 50%;">Workflow_FilesExist</div><div class="t" style="left:183.6px;top:381.75px;font-size:7.39px;line-height:9.61px;color:#555;font-weight:400;font-family:'Liberation Sans', Arial, sans-serif;transform:scaleX(0.88);transform-origin:0 50%;">Trigger</div><div style="left:229.7px;top:383.95px;width:6.4px;height:6.4px;background:#dadada;border-radius:1px"></div><svg style="left:229.7px;top:383.95px;" width="6.4" height="6.4" viewBox="0 0 6.4 6.4"><path d="M1.5 3.3 L2.7 4.5 L5 1.9" stroke="#f2f2f2" stroke-width="0.9" fill="none"/></svg><div style="left:262.8px;top:383.95px;width:6.4px;height:6.4px;background:#fff;border:0.8px solid #dcdcdc;border-radius:1px;box-sizing:border-box"></div><div class="t" style="left:295.7px;top:381.75px;font-size:7.39px;line-height:9.61px;color:#555;font-weight:400;font-family:'Liberation Sans', Arial, sans-serif;transform:scaleX(0.88);transform-origin:0 50%;">Workflow_FilesExist</div><div style="left:4.4px;top:397.0px;width:640px;height:0.9px;background:#e4e4e4"></div><div class="t" style="left:9.6px;top:401.59px;font-size:7.39px;line-height:9.61px;color:#555;font-weight:400;font-family:'Liberation Sans', Arial, sans-serif;transform:scaleX(0.88);transform-origin:0 50%;">43</div><div class="t" style="left:30.4px;top:401.59px;font-size:7.39px;line-height:9.61px;color:#555;font-weight:400;font-family:'Liberation Sans', Arial, sans-serif;transform:scaleX(0.88);transform-origin:0 50%;">Workflow_ExecutionGraph</div><div class="t" style="left:183.6px;top:401.59px;font-size:7.39px;line-height:9.61px;color:#555;font-weight:400;font-family:'Liberation Sans', Arial, sans-serif;transform:scaleX(0.88);transform-origin:0 50%;">Trigger</div><div style="left:229.7px;top:403.8px;width:6.4px;height:6.4px;background:#dadada;border-radius:1px"></div><svg style="left:229.7px;top:403.8px;" width="6.4" height="6.4" viewBox="0 0 6.4 6.4"><path d="M1.5 3.3 L2.7 4.5 L5 1.9" stroke="#f2f2f2" stroke-width="0.9" fill="none"/></svg><div style="left:262.8px;top:403.8px;width:6.4px;height:6.4px;background:#fff;border:0.8px solid #dcdcdc;border-radius:1px;box-sizing:border-box"></div><div class="t" style="left:295.7px;top:401.59px;font-size:7.39px;line-height:9.61px;color:#555;font-weight:400;font-family:'Liberation Sans', Arial, sans-serif;transform:scaleX(0.88);transform-origin:0 50%;">Workflow_ExecutionGraph</div><div style="left:4.4px;top:416.85px;width:640px;height:0.9px;background:#e4e4e4"></div><div class="t" style="left:9.6px;top:421.44px;font-size:7.39px;line-height:9.61px;color:#555;font-weight:400;font-family:'Liberation Sans', Arial, sans-serif;transform:scaleX(0.88);transform-origin:0 50%;">44</div><div class="t" style="left:30.4px;top:421.44px;font-size:7.39px;line-height:9.61px;color:#555;font-weight:400;font-family:'Liberation Sans', Arial, sans-serif;transform:scaleX(0.88);transform-origin:0 50%;">Workflow_Mqtt</div><div class="t" style="left:183.6px;top:421.44px;font-size:7.39px;line-height:9.61px;color:#555;font-weight:400;font-family:'Liberation Sans', Arial, sans-serif;transform:scaleX(0.88);transform-origin:0 50%;">Trigger</div><div style="left:229.7px;top:423.65px;width:6.4px;height:6.4px;background:#dadada;border-radius:1px"></div><svg style="left:229.7px;top:423.65px;" width="6.4" height="6.4" viewBox="0 0 6.4 6.4"><path d="M1.5 3.3 L2.7 4.5 L5 1.9" stroke="#f2f2f2" stroke-width="0.9" fill="none"/></svg><div style="left:262.8px;top:423.65px;width:6.4px;height:6.4px;background:#fff;border:0.8px solid #dcdcdc;border-radius:1px;box-sizing:border-box"></div><div class="t" style="left:295.7px;top:421.44px;font-size:7.39px;line-height:9.61px;color:#555;font-weight:400;font-family:'Liberation Sans', Arial, sans-serif;transform:scaleX(0.88);transform-origin:0 50%;">Workflow_Mqtt</div><div style="left:-0.7px;top:424.7px;width:650px;height:4px;background:#fafafa;z-index:5"></div></div><div class="win" style="left:496px;top:113px;width:650px;height:428px;z-index:3;"><div style="left:0px;top:0px;width:650px;height:428px;background:#f9f9f9"></div><div style="left:0px;top:0px;width:650px;height:21px;background:#dee1e6"></div><div style="left:4px;top:4px;width:120px;height:18px;background:#fff;border-radius:4px 4px 0 0"></div><svg style="left:0px;top:16px;" width="5" height="5" viewBox="0 0 5 5"><path d="M0 5 Q4 5 4 0 L5 0 L5 5 Z" fill="#fff"/></svg><svg style="left:123px;top:16px;" width="5" height="5" viewBox="0 0 5 5"><path d="M5 5 Q1 5 1 0 L0 0 L0 5 Z" fill="#fff"/></svg><svg style="left:10px;top:8px;" width="9" height="9" viewBox="0 0 9 9"><defs><linearGradient id="wg3" x1="0.2" y1="0" x2="0.7" y2="1"><stop offset="0" stop-color="#10ecef"/><stop offset="1" stop-color="#1a66e6"/></linearGradient></defs><ellipse cx="4.5" cy="4.7" rx="3.8" ry="4.1" fill="url(#wg3)"/><path d="M0.4 4.2 L7.2 0.6 M0.4 6.6 L8.6 2.4 M1.6 8.6 L8.6 4.9" stroke="#fff" stroke-width="0.7" fill="none" opacity="0.9"/></svg><div class="t" style="left:22.8px;top:9.77px;font-size:5.9px;line-height:7.67px;color:#505459;font-weight:400;font-family:'Liberation Sans', Arial, sans-serif;">Dashboard</div><svg style="left:113.3px;top:10.3px;" width="6" height="6" viewBox="0 0 6 6"><path d="M1 1 L4.8 4.8 M4.8 1 L1 4.8" stroke="#3c4043" stroke-width="0.95"/></svg><svg style="left:130px;top:8px;" width="9" height="9" viewBox="0 0 9 9"><defs><linearGradient id="wg4" x1="0.2" y1="0" x2="0.7" y2="1"><stop offset="0" stop-color="#10ecef"/><stop offset="1" stop-color="#1a66e6"/></linearGradient></defs><ellipse cx="4.5" cy="4.7" rx="3.8" ry="4.1" fill="url(#wg4)"/><path d="M0.4 4.2 L7.2 0.6 M0.4 6.6 L8.6 2.4 M1.6 8.6 L8.6 4.9" stroke="#fff" stroke-width="0.7" fill="none" opacity="0.9"/></svg><div class="t" style="left:142.8px;top:9.77px;font-size:5.9px;line-height:7.67px;color:#505459;font-weight:400;font-family:'Liberation Sans', Arial, sans-serif;">Manager</div><svg style="left:233.3px;top:10.3px;" width="6" height="6" viewBox="0 0 6 6"><path d="M1 1 L4.8 4.8 M4.8 1 L1 4.8" stroke="#3c4043" stroke-width="0.95"/></svg><div style="left:243.5px;top:8px;width:1px;height:10px;background:#9aa0a6"></div><svg style="left:250.9px;top:8.7px;" width="7" height="7" viewBox="0 0 7 7"><path d="M3.5 0.5 V6.5 M0.5 3.5 H6.5" stroke="#3c4043" stroke-width="1"/></svg><svg style="left:567px;top:5.5px;" width="6" height="4" viewBox="0 0 6 4"><path d="M0.5 0.6 L3 3.2 L5.5 0.6" stroke="#55585c" stroke-width="0.8" fill="none"/></svg><div style="left:589.5px;top:7.2px;width:5.2px;height:0.9px;background:#55585c"></div><div style="left:614px;top:4.4px;width:3px;height:3.8px;border:0.9px solid #55585c"></div><svg style="left:635.8px;top:4.4px;" width="6" height="6" viewBox="0 0 6 6"><path d="M0.7 0.7 L5.1 5.1 M5.1 0.7 L0.7 5.1" stroke="#55585c" stroke-width="0.85"/></svg><div style="left:0px;top:21px;width:650px;height:19px;background:#fff"></div><svg style="left:7px;top:26.6px;" width="8" height="8" viewBox="0 0 8 8"><path d="M7.5 4 H1.2 M4 1 L1 4 L4 7" stroke="#5f6368" stroke-width="1.1" fill="none"/></svg><svg style="left:23px;top:26.6px;" width="8" height="8" viewBox="0 0 8 8"><path d="M0.5 4 H6.8 M4 1 L7 4 L4 7" stroke="#b9bcbf" stroke-width="1.1" fill="none"/></svg><svg style="left:39px;top:26.6px;" width="8" height="8" viewBox="0 0 8 8"><path d="M6.6 2.4 A3.2 3.2 0 1 0 7.2 5" stroke="#5f6368" stroke-width="1.1" fill="none"/><path d="M7.6 0.6 V3.4 H4.8 Z" fill="#5f6368"/></svg><div style="left:55px;top:23px;width:509px;height:14px;background:#f1f3f4;border-radius:7px"></div><svg style="left:58.5px;top:26.5px;" width="8" height="8" viewBox="0 0 8 8"><circle cx="4" cy="4" r="3.3" stroke="#5f6368" stroke-width="0.8" fill="none"/><path d="M4 3.3 V6" stroke="#5f6368" stroke-width="0.9"/><circle cx="4" cy="2.2" r="0.5" fill="#5f6368"/></svg><div class="t" style="left:71.5px;top:26.71px;font-size:6.6px;line-height:8.58px;color:#6f7378;font-weight:400;font-family:'Liberation Sans', Arial, sans-serif;">Fichier</div><div style="left:95px;top:26.5px;width:0.7px;height:8px;background:#b4b8bc"></div><div class="t" style="left:100px;top:25.98px;font-size:6.95px;line-height:9.04px;color:#2a2b2e;font-weight:400;font-family:'Liberation Sans', Arial, sans-serif;">C:/Program%20Files/Wexflow/Backend/dashboard.html</div><svg style="left:535px;top:26.5px;" width="8" height="8" viewBox="0 0 8 8"><path d="M1 3.5 V7.3 H6.8 V5.5" stroke="#5f6368" stroke-width="0.8" fill="none"/><path d="M2.8 5.2 Q3.2 2.6 6 2.6 M4.8 1 L6.6 2.6 L4.8 4.2" stroke="#5f6368" stroke-width="0.8" fill="none"/></svg><svg style="left:550.5px;top:26px;z-index:1" width="9" height="9" viewBox="0 0 9 9"><path d="M4.5 0.5 L5.6 3.4 L8.6 3.4 L6.2 5.3 L7.1 8.3 L4.5 6.5 L1.9 8.3 L2.8 5.3 L0.4 3.4 L3.4 3.4 Z" fill="#1a73e8"/></svg><svg style="left:571px;top:26px;" width="8" height="9" viewBox="0 0 8 9"><path d="M4 0.5 L7.5 1.8 V4.5 Q7.5 7.3 4 8.5 Q0.5 7.3 0.5 4.5 V1.8 Z" fill="#5f6368"/><rect x="2.3" y="3" width="3.4" height="2.4" rx="0.5" fill="#fff"/></svg><svg style="left:586.5px;top:25.8px" width="9.5" height="9.5" viewBox="0 0 24 24"><path d="M20.5 11H19V7c0-1.1-.9-2-2-2h-4V3.5C13 2.12 11.88 1 10.5 1S8 2.120 8 3.5V5H4c-1.1 0-1.99.9-1.99 2v3.8H3.5c1.49 0 2.7 1.21 2.7 2.7s-1.21 2.7-2.7 2.7H2V20c0 1.1.9 2 2 2h3.8v-1.5c0-1.49 1.21-2.7 2.7-2.7 1.490 0 2.7 1.21 2.7 2.7V22H17c1.1 0 2-.9 2-2v-4h1.5c1.38 0 2.5-1.12 2.5-2.5S21.88 11 20.5 11z" fill="#5f6368"/></svg><svg style="left:603px;top:26.5px;" width="8" height="8" viewBox="0 0 8 8"><rect x="0.6" y="0.6" width="6.8" height="6.8" stroke="#5f6368" stroke-width="1.1" fill="none"/><rect x="4.3" y="0.6" width="3.1" height="6.8" fill="#5f6368"/></svg><svg style="left:617.5px;top:25px;" width="11" height="11" viewBox="0 0 11 11"><circle cx="5.5" cy="5.5" r="5.5" fill="#3d9be9"/><text x="5.5" y="8" font-size="6.5" text-anchor="middle" fill="#fff" font-family="Liberation Sans" font-weight="700">AE</text></svg><svg style="left:637.5px;top:26px;" width="3" height="9" viewBox="0 0 3 9"><circle cx="1.5" cy="1.2" r="0.8" fill="#5f6368"/><circle cx="1.5" cy="4.5" r="0.8" fill="#5f6368"/><circle cx="1.5" cy="7.8" r="0.8" fill="#5f6368"/></svg><div style="left:0px;top:40px;width:650px;height:21px;background:#2aa65a;box-shadow:0 1px 2px rgba(0,0,0,0.25)"></div><div class="t" style="left:10.3px;top:46.86px;font-size:6.82px;line-height:8.87px;color:#fff;font-weight:700;font-family:'Liberation Sans', Arial, sans-serif;transform:scaleX(0.88);transform-origin:0 50%;text-decoration:underline;text-underline-offset:1px;text-decoration-thickness:0.6px">Dashboard</div><div class="t" style="left:61.5px;top:46.86px;font-size:6.82px;line-height:8.87px;color:#fff;font-weight:700;font-family:'Liberation Sans', Arial, sans-serif;transform:scaleX(0.88);transform-origin:0 50%;">Manager</div><div class="t" style="left:106.4px;top:46.86px;font-size:6.82px;line-height:8.87px;color:#fff;font-weight:700;font-family:'Liberation Sans', Arial, sans-serif;transform:scaleX(0.88);transform-origin:0 50%;">Designer</div><div class="t" style="left:152px;top:46.86px;font-size:6.82px;line-height:8.87px;color:#fff;font-weight:700;font-family:'Liberation Sans', Arial, sans-serif;transform:scaleX(0.88);transform-origin:0 50%;">Approvals</div><div class="t" style="left:201.2px;top:46.86px;font-size:6.82px;line-height:8.87px;color:#fff;font-weight:700;font-family:'Liberation Sans', Arial, sans-serif;transform:scaleX(0.88);transform-origin:0 50%;">Records</div><div class="t" style="left:245.4px;top:46.86px;font-size:6.82px;line-height:8.87px;color:#fff;font-weight:700;font-family:'Liberation Sans', Arial, sans-serif;transform:scaleX(0.88);transform-origin:0 50%;">History</div><div class="t" style="left:285.9px;top:46.86px;font-size:6.82px;line-height:8.87px;color:#fff;font-weight:700;font-family:'Liberation Sans', Arial, sans-serif;transform:scaleX(0.88);transform-origin:0 50%;">Users</div><div class="t" style="left:322.4px;top:46.86px;font-size:6.82px;line-height:8.87px;color:#fff;font-weight:700;font-family:'Liberation Sans', Arial, sans-serif;transform:scaleX(0.88);transform-origin:0 50%;">Profiles</div><svg style="left:528px;top:45.6px;" width="9" height="10.4" viewBox="0 0 9 10.4"><path d="M4.5 0.8 Q7.6 1 7.4 4.6 L7.6 7.2 L8.6 8.2 H0.4 L1.4 7.2 L1.6 4.6 Q1.4 1 4.5 0.8 Z" fill="#fff"/><circle cx="4.5" cy="9.2" r="1" fill="#fff"/><circle cx="4.5" cy="0.9" r="0.7" fill="#fff"/></svg><div class="t" style="left:548px;top:46.86px;font-size:6.82px;line-height:8.87px;color:#fff;font-weight:700;font-family:'Liberation Sans', Arial, sans-serif;transform:scaleX(0.88);transform-origin:0 50%;">Logout (admin)</div><div style="left:602px;top:45px;width:38px;height:10.6px;background:#fff;border-radius:1.5px"></div><div class="t" style="left:605.4px;top:46.77px;font-size:6.82px;line-height:8.87px;color:#333;font-weight:400;font-family:'Liberation Sans', Arial, sans-serif;transform:scaleX(0.88);transform-origin:0 50%;">Language</div><svg style="left:633.5px;top:49.3px;" width="4" height="3" viewBox="0 0 4 3"><path d="M0 0 H4 L2 2.2 Z" fill="#333"/></svg><svg style="left:10.5px;top:70px" width="43.4" height="42.2" viewBox="0 0 42 42" preserveAspectRatio="none"><rect width="42" height="42" fill="#ef9b24"/><rect x="11.5" y="11.2" width="8" height="19.4" rx="0.8" fill="#fff"/><rect x="22.9" y="11.2" width="8" height="19.4" rx="0.8" fill="#fff"/></svg><div class="t" style="left:64.8px;top:69.42px;font-size:7.5px;line-height:9.75px;color:#333;font-weight:400;font-family:'Liberation Sans', Arial, sans-serif;transform:scaleX(0.88);transform-origin:0 50%;-webkit-text-stroke:0.25px #333">Pending</div><div class="t" style="left:64.8px;top:83.55px;font-size:11.93px;line-height:15.51px;color:#222;font-weight:700;font-family:'Liberation Sans', Arial, sans-serif;transform:scaleX(0.88);transform-origin:0 50%;">1</div><svg style="left:95.7px;top:70px" width="43.4" height="42.2" viewBox="0 0 42 42" preserveAspectRatio="none"><rect width="42" height="42" fill="#33bfec"/><path d="M12.3 11.7 L30.8 21.4 L12.3 31.1 Z" fill="#fff"/></svg><div class="t" style="left:149.3px;top:69.42px;font-size:7.5px;line-height:9.75px;color:#333;font-weight:400;font-family:'Liberation Sans', Arial, sans-serif;transform:scaleX(0.88);transform-origin:0 50%;-webkit-text-stroke:0.25px #333">Running</div><div class="t" style="left:149.3px;top:83.55px;font-size:11.93px;line-height:15.51px;color:#222;font-weight:700;font-family:'Liberation Sans', Arial, sans-serif;transform:scaleX(0.88);transform-origin:0 50%;">1</div><svg style="left:180.8px;top:70px" width="43.4" height="42.2" viewBox="0 0 42 42" preserveAspectRatio="none"><rect width="42" height="42" fill="#2aa65a"/><path d="M12.6 21.4 L18 26.6 L28.6 16" stroke="#fff" stroke-width="4.8" fill="none" stroke-linecap="round" stroke-linejoin="round"/></svg><div class="t" style="left:244.5px;top:69.42px;font-size:7.5px;line-height:9.75px;color:#333;font-weight:400;font-family:'Liberation Sans', Arial, sans-serif;transform:scaleX(0.88);transform-origin:0 50%;-webkit-text-stroke:0.25px #333">Done</div><div class="t" style="left:244.5px;top:83.55px;font-size:11.93px;line-height:15.51px;color:#222;font-weight:700;font-family:'Liberation Sans', Arial, sans-serif;transform:scaleX(0.88);transform-origin:0 50%;">9</div><svg style="left:265.6px;top:70px" width="43.4" height="43.8" viewBox="0 0 42 42" preserveAspectRatio="none"><rect width="42" height="42" fill="#db4437"/><path d="M16 17.4 L27 28 M27 17.4 L16 28" stroke="#fff" stroke-width="4.6" stroke-linecap="round"/></svg><div class="t" style="left:326.7px;top:69.42px;font-size:7.5px;line-height:9.75px;color:#333;font-weight:400;font-family:'Liberation Sans', Arial, sans-serif;transform:scaleX(0.88);transform-origin:0 50%;-webkit-text-stroke:0.25px #333">Failed</div><div class="t" style="left:326.7px;top:83.55px;font-size:11.93px;line-height:15.51px;color:#222;font-weight:700;font-family:'Liberation Sans', Arial, sans-serif;transform:scaleX(0.88);transform-origin:0 50%;">0</div><svg style="left:350.8px;top:70px" width="43.4" height="43.8" viewBox="0 0 42 42" preserveAspectRatio="none"><rect width="42" height="42" fill="#d5005d"/><path d="M21 12 L31.8 30.6 H10.2 Z" fill="#fff" stroke="#fff" stroke-width="2" stroke-linejoin="round"/><rect x="19.4" y="17.6" width="3.2" height="6.8" fill="#d5005d"/><rect x="19.4" y="25.6" width="3.2" height="3" fill="#d5005d"/></svg><div class="t" style="left:414.8px;top:69.42px;font-size:7.5px;line-height:9.75px;color:#333;font-weight:400;font-family:'Liberation Sans', Arial, sans-serif;transform:scaleX(0.88);transform-origin:0 50%;-webkit-text-stroke:0.25px #333">Warning</div><div class="t" style="left:414.8px;top:83.55px;font-size:11.93px;line-height:15.51px;color:#222;font-weight:700;font-family:'Liberation Sans', Arial, sans-serif;transform:scaleX(0.88);transform-origin:0 50%;">5</div><svg style="left:445.7px;top:70px" width="43.4" height="42.2" viewBox="0 0 42 42" preserveAspectRatio="none"><rect width="42" height="42" fill="#d2d6de"/><circle cx="20.6" cy="21" r="10.2" fill="#000"/><rect x="14.3" y="18.9" width="12.3" height="4.2" rx="1" fill="#fff"/></svg><div class="t" style="left:498.5px;top:69.42px;font-size:7.5px;line-height:9.75px;color:#333;font-weight:400;font-family:'Liberation Sans', Arial, sans-serif;transform:scaleX(0.88);transform-origin:0 50%;-webkit-text-stroke:0.25px #333">Rejected</div><div class="t" style="left:498.5px;top:83.55px;font-size:11.93px;line-height:15.51px;color:#222;font-weight:700;font-family:'Liberation Sans', Arial, sans-serif;transform:scaleX(0.88);transform-origin:0 50%;">0</div><svg style="left:530.9px;top:70px" width="43.4" height="42.2" viewBox="0 0 42 42" preserveAspectRatio="none"><rect width="42" height="42" fill="#d2d6de"/><path d="M20 9.6 L30.6 29.2 H9.4 Z" fill="#000" stroke="#000" stroke-width="2" stroke-linejoin="round"/><rect x="18.5" y="15.5" width="3" height="7.5" fill="#fff"/><rect x="18.5" y="24.5" width="3" height="2.8" fill="#fff"/></svg><div class="t" style="left:584.8px;top:69.42px;font-size:7.5px;line-height:9.75px;color:#333;font-weight:400;font-family:'Liberation Sans', Arial, sans-serif;transform:scaleX(0.88);transform-origin:0 50%;-webkit-text-stroke:0.25px #333">Stopped</div><div class="t" style="left:584.8px;top:83.55px;font-size:11.93px;line-height:15.51px;color:#222;font-weight:700;font-family:'Liberation Sans', Arial, sans-serif;transform:scaleX(0.88);transform-origin:0 50%;">0</div><div class="t" style="left:3.5px;top:127.04px;font-size:7.16px;line-height:9.31px;color:#333;font-weight:700;font-family:'Liberation Sans', Arial, sans-serif;transform:scaleX(0.88);transform-origin:0 50%;">Show</div><div style="left:22.2px;top:126.1px;width:26.2px;height:9.6px;background:#fff;border:1px solid #a9a9a9;border-radius:1.5px;box-sizing:border-box"></div><div class="t" style="left:24.6px;top:126.89px;font-size:7.39px;line-height:9.61px;color:#222;font-weight:400;font-family:'Liberation Sans', Arial, sans-serif;transform:scaleX(0.88);transform-origin:0 50%;">10</div><svg style="left:41.2px;top:129.6px;" width="5" height="4" viewBox="0 0 5 4"><path d="M0.5 0.6 L2.5 2.8 L4.5 0.6" stroke="#222" stroke-width="1.1" fill="none"/></svg><div class="t" style="left:50.6px;top:127.04px;font-size:7.16px;line-height:9.31px;color:#333;font-weight:700;font-family:'Liberation Sans', Arial, sans-serif;transform:scaleX(0.88);transform-origin:0 50%;">entries</div><div style="left:73.2px;top:125.9px;width:9.8px;height:10.8px;background:#86b7e6;border-radius:1.5px"></div><div class="t" style="left:73.1px;top:127.34px;width:10px;text-align:center;font-size:6.25px;line-height:8.12px;color:#fff;font-weight:700;font-family:'Liberation Sans', Arial, sans-serif;transform:scaleX(0.88);transform-origin:50% 50%;">&lt;</div><div class="t" style="left:85px;top:127.04px;font-size:7.16px;line-height:9.31px;color:#333;font-weight:700;font-family:'Liberation Sans', Arial, sans-serif;transform:scaleX(0.88);transform-origin:0 50%;">1 / 2</div><div style="left:99.4px;top:125.9px;width:9.6px;height:10.8px;background:#3d88d1;border-radius:1.5px"></div><div class="t" style="left:99.2px;top:127.34px;width:10px;text-align:center;font-size:6.25px;line-height:8.12px;color:#fff;font-weight:700;font-family:'Liberation Sans', Arial, sans-serif;transform:scaleX(0.88);transform-origin:50% 50%;">&gt;</div><div class="t" style="left:111.2px;top:127.04px;font-size:7.16px;line-height:9.31px;color:#333;font-weight:700;font-family:'Liberation Sans', Arial, sans-serif;transform:scaleX(0.88);transform-origin:0 50%;">Total entries: 16</div><div class="t" style="left:381.7px;top:127.04px;font-size:7.16px;line-height:9.31px;color:#333;font-weight:700;font-family:'Liberation Sans', Arial, sans-serif;transform:scaleX(0.88);transform-origin:0 50%;">from</div><div style="left:399.2px;top:125.7px;width:59.3px;height:10.6px;background:#fff;border:1px solid #ddd;border-radius:1.5px;box-sizing:border-box"></div><div class="t" style="left:401px;top:127.04px;font-size:7.16px;line-height:9.31px;color:#555;font-weight:400;font-family:'Liberation Sans', Arial, sans-serif;transform:scaleX(0.88);transform-origin:0 50%;">05-11-2022</div><div class="t" style="left:466.5px;top:127.04px;font-size:7.16px;line-height:9.31px;color:#333;font-weight:700;font-family:'Liberation Sans', Arial, sans-serif;transform:scaleX(0.88);transform-origin:0 50%;">to</div><div style="left:475.1px;top:125.7px;width:59.4px;height:10.6px;background:#fff;border:1px solid #ddd;border-radius:1.5px;box-sizing:border-box"></div><div class="t" style="left:477px;top:127.04px;font-size:7.16px;line-height:9.31px;color:#555;font-weight:400;font-family:'Liberation Sans', Arial, sans-serif;transform:scaleX(0.88);transform-origin:0 50%;">06-11-2022</div><div style="left:542.4px;top:125.7px;width:74.9px;height:10.6px;background:#fff;border:1px solid #ddd;border-radius:1.5px;box-sizing:border-box"></div><div style="left:620.2px;top:125.6px;width:25.6px;height:11.4px;background:#3b77ae;border:1px solid #1c3f66;border-radius:2px;box-sizing:border-box;box-shadow:0 0 0 0.8px #8fb6e0"></div><div class="t" style="left:618.0px;top:126.56px;width:30px;text-align:center;font-size:6.82px;line-height:8.87px;color:#fff;font-weight:400;font-family:'Liberation Sans', Arial, sans-serif;transform:scaleX(0.88);transform-origin:50% 50%;">Search</div><div style="left:5.4px;top:145px;width:650px;height:18px;background:#fff;border-bottom:1px solid #dcdcdc"></div><div class="t" style="left:10.4px;top:148.84px;font-size:7.16px;line-height:9.31px;color:#8c8c8c;font-weight:400;font-family:'Liberation Sans', Arial, sans-serif;transform:scaleX(0.88);transform-origin:0 50%;">Status</div><div class="t" style="left:69.5px;top:148.91px;font-size:7.05px;line-height:9.17px;color:#222;font-weight:700;font-family:'Liberation Sans', Arial, sans-serif;transform:scaleX(0.88);transform-origin:0 50%;">Date</div><svg style="left:89.7px;top:151.3px;" width="5" height="4.4" viewBox="0 0 5 4.4"><path d="M0 0 H5 L2.5 4.2 Z" fill="#e5391a"/></svg><div class="t" style="left:136.7px;top:148.91px;font-size:7.05px;line-height:9.17px;color:#555;font-weight:400;font-family:'Liberation Sans', Arial, sans-serif;transform:scaleX(0.88);transform-origin:0 50%;">Id</div><div class="t" style="left:159.4px;top:148.84px;font-size:7.16px;line-height:9.31px;color:#8c8c8c;font-weight:400;font-family:'Liberation Sans', Arial, sans-serif;transform:scaleX(0.88);transform-origin:0 50%;">Name</div><div class="t" style="left:258.8px;top:148.91px;font-size:7.05px;line-height:9.17px;color:#b0b0b0;font-weight:400;font-family:'Liberation Sans', Arial, sans-serif;transform:scaleX(0.88);transform-origin:0 50%;">Launch type</div><div class="t" style="left:309.4px;top:148.91px;font-size:7.05px;line-height:9.17px;color:#222;font-weight:700;font-family:'Liberation Sans', Arial, sans-serif;transform:scaleX(0.88);transform-origin:0 50%;">Description</div><svg style="left:9.4px;top:168.2px" width="18.1" height="17.9" viewBox="0 0 42 42" preserveAspectRatio="none"><rect width="42" height="42" fill="#33bfec"/><path d="M12.3 11.7 L30.8 21.4 L12.3 31.1 Z" fill="#fff"/></svg><div class="t" style="left:34.5px;top:172.44px;font-size:7.16px;line-height:9.31px;color:#4a4a4a;font-weight:400;font-family:'Liberation Sans', Arial, sans-serif;transform:scaleX(0.88);transform-origin:0 50%;">Running</div><div class="t" style="left:69.1px;top:168.25px;font-size:7.16px;line-height:9.31px;color:#4a4a4a;font-weight:400;font-family:'Liberation Sans', Arial, sans-serif;transform:scaleX(0.88);transform-origin:0 50%;">05-11-2022</div><div class="t" style="left:69.1px;top:177.44px;font-size:7.16px;line-height:9.31px;color:#4a4a4a;font-weight:400;font-family:'Liberation Sans', Arial, sans-serif;transform:scaleX(0.88);transform-origin:0 50%;">22:41:22</div><div class="t" style="left:136.3px;top:168.25px;font-size:7.16px;line-height:9.31px;color:#4a4a4a;font-weight:400;font-family:'Liberation Sans', Arial, sans-serif;transform:scaleX(0.88);transform-origin:0 50%;">41</div><div class="t" style="left:158.7px;top:168.25px;font-size:7.16px;line-height:9.31px;color:#4a4a4a;font-weight:400;font-family:'Liberation Sans', Arial, sans-serif;transform:scaleX(0.88);transform-origin:0 50%;">Workflow_Wait</div><div class="t" style="left:258px;top:168.25px;font-size:7.16px;line-height:9.31px;color:#4a4a4a;font-weight:400;font-family:'Liberation Sans', Arial, sans-serif;transform:scaleX(0.88);transform-origin:0 50%;">Trigger</div><div class="t" style="left:307px;top:168.25px;font-size:7.16px;line-height:9.31px;color:#4a4a4a;font-weight:400;font-family:'Liberation Sans', Arial, sans-serif;transform:scaleX(0.88);transform-origin:0 50%;">Workflow_Wait</div><div style="left:5.4px;top:190.07px;width:650px;height:0.8px;background:#e2e2e2"></div><svg style="left:9.4px;top:195.17px" width="18.1" height="17.9" viewBox="0 0 42 42" preserveAspectRatio="none"><rect width="42" height="42" fill="#ef9b24"/><rect x="11.5" y="11.2" width="8" height="19.4" rx="0.8" fill="#fff"/><rect x="22.9" y="11.2" width="8" height="19.4" rx="0.8" fill="#fff"/></svg><div class="t" style="left:34.5px;top:199.41px;font-size:7.16px;line-height:9.31px;color:#4a4a4a;font-weight:400;font-family:'Liberation Sans', Arial, sans-serif;transform:scaleX(0.88);transform-origin:0 50%;">Pending</div><div class="t" style="left:69.1px;top:195.22px;font-size:7.16px;line-height:9.31px;color:#4a4a4a;font-weight:400;font-family:'Liberation Sans', Arial, sans-serif;transform:scaleX(0.88);transform-origin:0 50%;">05-11-2022</div><div class="t" style="left:69.1px;top:204.41px;font-size:7.16px;line-height:9.31px;color:#4a4a4a;font-weight:400;font-family:'Liberation Sans', Arial, sans-serif;transform:scaleX(0.88);transform-origin:0 50%;">22:41:21</div><div class="t" style="left:136.3px;top:195.22px;font-size:7.16px;line-height:9.31px;color:#4a4a4a;font-weight:400;font-family:'Liberation Sans', Arial, sans-serif;transform:scaleX(0.88);transform-origin:0 50%;">41</div><div class="t" style="left:158.7px;top:195.22px;font-size:7.16px;line-height:9.31px;color:#4a4a4a;font-weight:400;font-family:'Liberation Sans', Arial, sans-serif;transform:scaleX(0.88);transform-origin:0 50%;">Workflow_Wait</div><div class="t" style="left:258px;top:195.22px;font-size:7.16px;line-height:9.31px;color:#4a4a4a;font-weight:400;font-family:'Liberation Sans', Arial, sans-serif;transform:scaleX(0.88);transform-origin:0 50%;">Trigger</div><div class="t" style="left:307px;top:195.22px;font-size:7.16px;line-height:9.31px;color:#4a4a4a;font-weight:400;font-family:'Liberation Sans', Arial, sans-serif;transform:scaleX(0.88);transform-origin:0 50%;">Workflow_Wait</div><div style="left:5.4px;top:217.04px;width:650px;height:0.8px;background:#e2e2e2"></div><svg style="left:9.4px;top:222.14px" width="18.1" height="17.9" viewBox="0 0 42 42" preserveAspectRatio="none"><rect width="42" height="42" fill="#d5005d"/><path d="M21 12 L31.8 30.6 H10.2 Z" fill="#fff" stroke="#fff" stroke-width="2" stroke-linejoin="round"/><rect x="19.4" y="17.6" width="3.2" height="6.8" fill="#d5005d"/><rect x="19.4" y="25.6" width="3.2" height="3" fill="#d5005d"/></svg><div class="t" style="left:34.5px;top:226.38px;font-size:7.16px;line-height:9.31px;color:#4a4a4a;font-weight:400;font-family:'Liberation Sans', Arial, sans-serif;transform:scaleX(0.88);transform-origin:0 50%;">Warning</div><div class="t" style="left:69.1px;top:222.19px;font-size:7.16px;line-height:9.31px;color:#4a4a4a;font-weight:400;font-family:'Liberation Sans', Arial, sans-serif;transform:scaleX(0.88);transform-origin:0 50%;">05-11-2022</div><div class="t" style="left:69.1px;top:231.38px;font-size:7.16px;line-height:9.31px;color:#4a4a4a;font-weight:400;font-family:'Liberation Sans', Arial, sans-serif;transform:scaleX(0.88);transform-origin:0 50%;">22:41:07</div><div class="t" style="left:136.3px;top:222.19px;font-size:7.16px;line-height:9.31px;color:#4a4a4a;font-weight:400;font-family:'Liberation Sans', Arial, sans-serif;transform:scaleX(0.88);transform-origin:0 50%;">25</div><div class="t" style="left:158.7px;top:222.19px;font-size:7.16px;line-height:9.31px;color:#4a4a4a;font-weight:400;font-family:'Liberation Sans', Arial, sans-serif;transform:scaleX(0.88);transform-origin:0 50%;">Workflow_Http</div><div class="t" style="left:258px;top:222.19px;font-size:7.16px;line-height:9.31px;color:#4a4a4a;font-weight:400;font-family:'Liberation Sans', Arial, sans-serif;transform:scaleX(0.88);transform-origin:0 50%;">Trigger</div><div class="t" style="left:307px;top:222.19px;font-size:7.16px;line-height:9.31px;color:#4a4a4a;font-weight:400;font-family:'Liberation Sans', Arial, sans-serif;transform:scaleX(0.88);transform-origin:0 50%;">Workflow_Http</div><div style="left:5.4px;top:244.01px;width:650px;height:0.8px;background:#e2e2e2"></div><svg style="left:9.4px;top:249.10999999999999px" width="18.1" height="17.9" viewBox="0 0 42 42" preserveAspectRatio="none"><rect width="42" height="42" fill="#d5005d"/><path d="M21 12 L31.8 30.6 H10.2 Z" fill="#fff" stroke="#fff" stroke-width="2" stroke-linejoin="round"/><rect x="19.4" y="17.6" width="3.2" height="6.8" fill="#d5005d"/><rect x="19.4" y="25.6" width="3.2" height="3" fill="#d5005d"/></svg><div class="t" style="left:34.5px;top:253.35px;font-size:7.16px;line-height:9.31px;color:#4a4a4a;font-weight:400;font-family:'Liberation Sans', Arial, sans-serif;transform:scaleX(0.88);transform-origin:0 50%;">Warning</div><div class="t" style="left:69.1px;top:249.16px;font-size:7.16px;line-height:9.31px;color:#4a4a4a;font-weight:400;font-family:'Liberation Sans', Arial, sans-serif;transform:scaleX(0.88);transform-origin:0 50%;">05-11-2022</div><div class="t" style="left:69.1px;top:258.36px;font-size:7.16px;line-height:9.31px;color:#4a4a4a;font-weight:400;font-family:'Liberation Sans', Arial, sans-serif;transform:scaleX(0.88);transform-origin:0 50%;">22:41:05</div><div class="t" style="left:136.3px;top:249.16px;font-size:7.16px;line-height:9.31px;color:#4a4a4a;font-weight:400;font-family:'Liberation Sans', Arial, sans-serif;transform:scaleX(0.88);transform-origin:0 50%;">21</div><div class="t" style="left:158.7px;top:249.16px;font-size:7.16px;line-height:9.31px;color:#4a4a4a;font-weight:400;font-family:'Liberation Sans', Arial, sans-serif;transform:scaleX(0.88);transform-origin:0 50%;">Workflow_Tgz</div><div class="t" style="left:258px;top:249.16px;font-size:7.16px;line-height:9.31px;color:#4a4a4a;font-weight:400;font-family:'Liberation Sans', Arial, sans-serif;transform:scaleX(0.88);transform-origin:0 50%;">Trigger</div><div class="t" style="left:307px;top:249.16px;font-size:7.16px;line-height:9.31px;color:#4a4a4a;font-weight:400;font-family:'Liberation Sans', Arial, sans-serif;transform:scaleX(0.88);transform-origin:0 50%;">Workflow_Tgz</div><div style="left:5.4px;top:270.98px;width:650px;height:0.8px;background:#e2e2e2"></div><svg style="left:9.4px;top:276.08px" width="18.1" height="17.9" viewBox="0 0 42 42" preserveAspectRatio="none"><rect width="42" height="42" fill="#2aa65a"/><path d="M12.6 21.4 L18 26.6 L28.6 16" stroke="#fff" stroke-width="4.8" fill="none" stroke-linecap="round" stroke-linejoin="round"/></svg><div class="t" style="left:34.5px;top:280.33px;font-size:7.16px;line-height:9.31px;color:#4a4a4a;font-weight:400;font-family:'Liberation Sans', Arial, sans-serif;transform:scaleX(0.88);transform-origin:0 50%;">Done</div><div class="t" style="left:69.1px;top:276.12px;font-size:7.16px;line-height:9.31px;color:#4a4a4a;font-weight:400;font-family:'Liberation Sans', Arial, sans-serif;transform:scaleX(0.88);transform-origin:0 50%;">05-11-2022</div><div class="t" style="left:69.1px;top:285.33px;font-size:7.16px;line-height:9.31px;color:#4a4a4a;font-weight:400;font-family:'Liberation Sans', Arial, sans-serif;transform:scaleX(0.88);transform-origin:0 50%;">22:41:03</div><div class="t" style="left:136.3px;top:276.12px;font-size:7.16px;line-height:9.31px;color:#4a4a4a;font-weight:400;font-family:'Liberation Sans', Arial, sans-serif;transform:scaleX(0.88);transform-origin:0 50%;">17</div><div class="t" style="left:158.7px;top:276.12px;font-size:7.16px;line-height:9.31px;color:#4a4a4a;font-weight:400;font-family:'Liberation Sans', Arial, sans-serif;transform:scaleX(0.88);transform-origin:0 50%;">Workflow_XmlToCsv</div><div class="t" style="left:258px;top:276.12px;font-size:7.16px;line-height:9.31px;color:#4a4a4a;font-weight:400;font-family:'Liberation Sans', Arial, sans-serif;transform:scaleX(0.88);transform-origin:0 50%;">Trigger</div><div class="t" style="left:307px;top:276.12px;font-size:7.16px;line-height:9.31px;color:#4a4a4a;font-weight:400;font-family:'Liberation Sans', Arial, sans-serif;transform:scaleX(0.88);transform-origin:0 50%;">Workflow_XmlToCsv</div><div style="left:5.4px;top:297.95px;width:650px;height:0.8px;background:#e2e2e2"></div><svg style="left:9.4px;top:303.05px" width="18.1" height="17.9" viewBox="0 0 42 42" preserveAspectRatio="none"><rect width="42" height="42" fill="#d5005d"/><path d="M21 12 L31.8 30.6 H10.2 Z" fill="#fff" stroke="#fff" stroke-width="2" stroke-linejoin="round"/><rect x="19.4" y="17.6" width="3.2" height="6.8" fill="#d5005d"/><rect x="19.4" y="25.6" width="3.2" height="3" fill="#d5005d"/></svg><div class="t" style="left:34.5px;top:307.3px;font-size:7.16px;line-height:9.31px;color:#4a4a4a;font-weight:400;font-family:'Liberation Sans', Arial, sans-serif;transform:scaleX(0.88);transform-origin:0 50%;">Warning</div><div class="t" style="left:69.1px;top:303.1px;font-size:7.16px;line-height:9.31px;color:#4a4a4a;font-weight:400;font-family:'Liberation Sans', Arial, sans-serif;transform:scaleX(0.88);transform-origin:0 50%;">05-11-2022</div><div class="t" style="left:69.1px;top:312.3px;font-size:7.16px;line-height:9.31px;color:#4a4a4a;font-weight:400;font-family:'Liberation Sans', Arial, sans-serif;transform:scaleX(0.88);transform-origin:0 50%;">22:41:02</div><div class="t" style="left:136.3px;top:303.1px;font-size:7.16px;line-height:9.31px;color:#4a4a4a;font-weight:400;font-family:'Liberation Sans', Arial, sans-serif;transform:scaleX(0.88);transform-origin:0 50%;">16</div><div class="t" style="left:158.7px;top:303.1px;font-size:7.16px;line-height:9.31px;color:#4a4a4a;font-weight:400;font-family:'Liberation Sans', Arial, sans-serif;transform:scaleX(0.88);transform-origin:0 50%;">Workflow_Twitter</div><div class="t" style="left:258px;top:303.1px;font-size:7.16px;line-height:9.31px;color:#4a4a4a;font-weight:400;font-family:'Liberation Sans', Arial, sans-serif;transform:scaleX(0.88);transform-origin:0 50%;">Trigger</div><div class="t" style="left:307px;top:303.1px;font-size:7.16px;line-height:9.31px;color:#4a4a4a;font-weight:400;font-family:'Liberation Sans', Arial, sans-serif;transform:scaleX(0.88);transform-origin:0 50%;">Workflow_Twitter</div><div style="left:5.4px;top:324.92px;width:650px;height:0.8px;background:#e2e2e2"></div><svg style="left:9.4px;top:330.02px" width="18.1" height="17.9" viewBox="0 0 42 42" preserveAspectRatio="none"><rect width="42" height="42" fill="#d5005d"/><path d="M21 12 L31.8 30.6 H10.2 Z" fill="#fff" stroke="#fff" stroke-width="2" stroke-linejoin="round"/><rect x="19.4" y="17.6" width="3.2" height="6.8" fill="#d5005d"/><rect x="19.4" y="25.6" width="3.2" height="3" fill="#d5005d"/></svg><div class="t" style="left:34.5px;top:334.27px;font-size:7.16px;line-height:9.31px;color:#4a4a4a;font-weight:400;font-family:'Liberation Sans', Arial, sans-serif;transform:scaleX(0.88);transform-origin:0 50%;">Warning</div><div class="t" style="left:69.1px;top:330.06px;font-size:7.16px;line-height:9.31px;color:#4a4a4a;font-weight:400;font-family:'Liberation Sans', Arial, sans-serif;transform:scaleX(0.88);transform-origin:0 50%;">05-11-2022</div><div class="t" style="left:69.1px;top:339.27px;font-size:7.16px;line-height:9.31px;color:#4a4a4a;font-weight:400;font-family:'Liberation Sans', Arial, sans-serif;transform:scaleX(0.88);transform-origin:0 50%;">22:41:00</div><div class="t" style="left:136.3px;top:330.06px;font-size:7.16px;line-height:9.31px;color:#4a4a4a;font-weight:400;font-family:'Liberation Sans', Arial, sans-serif;transform:scaleX(0.88);transform-origin:0 50%;">16</div><div class="t" style="left:158.7px;top:330.06px;font-size:7.16px;line-height:9.31px;color:#4a4a4a;font-weight:400;font-family:'Liberation Sans', Arial, sans-serif;transform:scaleX(0.88);transform-origin:0 50%;">Workflow_Twitter</div><div class="t" style="left:258px;top:330.06px;font-size:7.16px;line-height:9.31px;color:#4a4a4a;font-weight:400;font-family:'Liberation Sans', Arial, sans-serif;transform:scaleX(0.88);transform-origin:0 50%;">Trigger</div><div class="t" style="left:307px;top:330.06px;font-size:7.16px;line-height:9.31px;color:#4a4a4a;font-weight:400;font-family:'Liberation Sans', Arial, sans-serif;transform:scaleX(0.88);transform-origin:0 50%;">Workflow_Twitter</div><div style="left:5.4px;top:351.89px;width:650px;height:0.8px;background:#e2e2e2"></div><svg style="left:9.4px;top:356.98999999999995px" width="18.1" height="17.9" viewBox="0 0 42 42" preserveAspectRatio="none"><rect width="42" height="42" fill="#d5005d"/><path d="M21 12 L31.8 30.6 H10.2 Z" fill="#fff" stroke="#fff" stroke-width="2" stroke-linejoin="round"/><rect x="19.4" y="17.6" width="3.2" height="6.8" fill="#d5005d"/><rect x="19.4" y="25.6" width="3.2" height="3" fill="#d5005d"/></svg><div class="t" style="left:34.5px;top:361.24px;font-size:7.16px;line-height:9.31px;color:#4a4a4a;font-weight:400;font-family:'Liberation Sans', Arial, sans-serif;transform:scaleX(0.88);transform-origin:0 50%;">Warning</div><div class="t" style="left:69.1px;top:357.03px;font-size:7.16px;line-height:9.31px;color:#4a4a4a;font-weight:400;font-family:'Liberation Sans', Arial, sans-serif;transform:scaleX(0.88);transform-origin:0 50%;">05-11-2022</div><div class="t" style="left:69.1px;top:366.24px;font-size:7.16px;line-height:9.31px;color:#4a4a4a;font-weight:400;font-family:'Liberation Sans', Arial, sans-serif;transform:scaleX(0.88);transform-origin:0 50%;">22:40:58</div><div class="t" style="left:136.3px;top:357.03px;font-size:7.16px;line-height:9.31px;color:#4a4a4a;font-weight:400;font-family:'Liberation Sans', Arial, sans-serif;transform:scaleX(0.88);transform-origin:0 50%;">16</div><div class="t" style="left:158.7px;top:357.03px;font-size:7.16px;line-height:9.31px;color:#4a4a4a;font-weight:400;font-family:'Liberation Sans', Arial, sans-serif;transform:scaleX(0.88);transform-origin:0 50%;">Workflow_Twitter</div><div class="t" style="left:258px;top:357.03px;font-size:7.16px;line-height:9.31px;color:#4a4a4a;font-weight:400;font-family:'Liberation Sans', Arial, sans-serif;transform:scaleX(0.88);transform-origin:0 50%;">Trigger</div><div class="t" style="left:307px;top:357.03px;font-size:7.16px;line-height:9.31px;color:#4a4a4a;font-weight:400;font-family:'Liberation Sans', Arial, sans-serif;transform:scaleX(0.88);transform-origin:0 50%;">Workflow_Twitter</div><div style="left:642.6px;top:163px;width:7.4px;height:265px;background:#f1f1f1"></div><div style="left:643.6px;top:171.5px;width:5.4px;height:260px;background:#c1c1c1"></div><svg style="left:644px;top:165px;" width="5" height="4" viewBox="0 0 5 4"><path d="M0.5 3.2 L2.5 0.8 L4.5 3.2 Z" fill="#a3a3a3"/></svg></div><div class="win" style="left:499px;top:444px;width:650px;height:428px;z-index:4;"><div style="left:0px;top:0px;width:650px;height:428px;background:#f9f9f9"></div><div style="left:0px;top:0px;width:650px;height:21px;background:#dee1e6"></div><div style="left:4px;top:4px;width:120px;height:18px;background:#fff;border-radius:4px 4px 0 0"></div><svg style="left:0px;top:16px;" width="5" height="5" viewBox="0 0 5 5"><path d="M0 5 Q4 5 4 0 L5 0 L5 5 Z" fill="#fff"/></svg><svg style="left:123px;top:16px;" width="5" height="5" viewBox="0 0 5 5"><path d="M5 5 Q1 5 1 0 L0 0 L0 5 Z" fill="#fff"/></svg><svg style="left:10px;top:8px;" width="9" height="9" viewBox="0 0 9 9"><defs><linearGradient id="wg5" x1="0.2" y1="0" x2="0.7" y2="1"><stop offset="0" stop-color="#10ecef"/><stop offset="1" stop-color="#1a66e6"/></linearGradient></defs><ellipse cx="4.5" cy="4.7" rx="3.8" ry="4.1" fill="url(#wg5)"/><path d="M0.4 4.2 L7.2 0.6 M0.4 6.6 L8.6 2.4 M1.6 8.6 L8.6 4.9" stroke="#fff" stroke-width="0.7" fill="none" opacity="0.9"/></svg><div class="t" style="left:22.8px;top:9.77px;font-size:5.9px;line-height:7.67px;color:#505459;font-weight:400;font-family:'Liberation Sans', Arial, sans-serif;">History</div><svg style="left:113.3px;top:10.3px;" width="6" height="6" viewBox="0 0 6 6"><path d="M1 1 L4.8 4.8 M4.8 1 L1 4.8" stroke="#3c4043" stroke-width="0.95"/></svg><svg style="left:130.9px;top:8.7px;" width="7" height="7" viewBox="0 0 7 7"><path d="M3.5 0.5 V6.5 M0.5 3.5 H6.5" stroke="#3c4043" stroke-width="1"/></svg><svg style="left:567px;top:5.5px;" width="6" height="4" viewBox="0 0 6 4"><path d="M0.5 0.6 L3 3.2 L5.5 0.6" stroke="#55585c" stroke-width="0.8" fill="none"/></svg><div style="left:589.5px;top:7.2px;width:5.2px;height:0.9px;background:#55585c"></div><div style="left:614px;top:4.4px;width:3px;height:3.8px;border:0.9px solid #55585c"></div><svg style="left:635.8px;top:4.4px;" width="6" height="6" viewBox="0 0 6 6"><path d="M0.7 0.7 L5.1 5.1 M5.1 0.7 L0.7 5.1" stroke="#55585c" stroke-width="0.85"/></svg><div style="left:0px;top:21px;width:650px;height:19px;background:#fff"></div><svg style="left:7px;top:26.6px;" width="8" height="8" viewBox="0 0 8 8"><path d="M7.5 4 H1.2 M4 1 L1 4 L4 7" stroke="#5f6368" stroke-width="1.1" fill="none"/></svg><svg style="left:23px;top:26.6px;" width="8" height="8" viewBox="0 0 8 8"><path d="M0.5 4 H6.8 M4 1 L7 4 L4 7" stroke="#b9bcbf" stroke-width="1.1" fill="none"/></svg><svg style="left:39px;top:26.6px;" width="8" height="8" viewBox="0 0 8 8"><path d="M6.6 2.4 A3.2 3.2 0 1 0 7.2 5" stroke="#5f6368" stroke-width="1.1" fill="none"/><path d="M7.6 0.6 V3.4 H4.8 Z" fill="#5f6368"/></svg><div style="left:55px;top:23px;width:509px;height:14px;background:#f1f3f4;border-radius:7px"></div><svg style="left:58.5px;top:26.5px;" width="8" height="8" viewBox="0 0 8 8"><circle cx="4" cy="4" r="3.3" stroke="#5f6368" stroke-width="0.8" fill="none"/><path d="M4 3.3 V6" stroke="#5f6368" stroke-width="0.9"/><circle cx="4" cy="2.2" r="0.5" fill="#5f6368"/></svg><div class="t" style="left:71.5px;top:26.71px;font-size:6.6px;line-height:8.58px;color:#6f7378;font-weight:400;font-family:'Liberation Sans', Arial, sans-serif;">Fichier</div><div style="left:95px;top:26.5px;width:0.7px;height:8px;background:#b4b8bc"></div><div class="t" style="left:100px;top:25.98px;font-size:6.95px;line-height:9.04px;color:#2a2b2e;font-weight:400;font-family:'Liberation Sans', Arial, sans-serif;">C:/Program%20Files/Wexflow/Backend/history.html</div><svg style="left:535px;top:26.5px;" width="8" height="8" viewBox="0 0 8 8"><path d="M1 3.5 V7.3 H6.8 V5.5" stroke="#5f6368" stroke-width="0.8" fill="none"/><path d="M2.8 5.2 Q3.2 2.6 6 2.6 M4.8 1 L6.6 2.6 L4.8 4.2" stroke="#5f6368" stroke-width="0.8" fill="none"/></svg><svg style="left:550.5px;top:26px;z-index:1" width="9" height="9" viewBox="0 0 9 9"><path d="M4.5 0.8 L5.5 3.5 L8.3 3.5 L6 5.2 L6.9 8 L4.5 6.3 L2.1 8 L3 5.2 L0.7 3.5 L3.5 3.5 Z" stroke="#5f6368" stroke-width="0.8" fill="none" stroke-linejoin="round"/></svg><svg style="left:571px;top:26px;" width="8" height="9" viewBox="0 0 8 9"><path d="M4 0.5 L7.5 1.8 V4.5 Q7.5 7.3 4 8.5 Q0.5 7.3 0.5 4.5 V1.8 Z" fill="#5f6368"/><rect x="2.3" y="3" width="3.4" height="2.4" rx="0.5" fill="#fff"/></svg><svg style="left:586.5px;top:25.8px" width="9.5" height="9.5" viewBox="0 0 24 24"><path d="M20.5 11H19V7c0-1.1-.9-2-2-2h-4V3.5C13 2.12 11.88 1 10.5 1S8 2.120 8 3.5V5H4c-1.1 0-1.99.9-1.99 2v3.8H3.5c1.49 0 2.7 1.21 2.7 2.7s-1.21 2.7-2.7 2.7H2V20c0 1.1.9 2 2 2h3.8v-1.5c0-1.49 1.21-2.7 2.7-2.7 1.490 0 2.7 1.21 2.7 2.7V22H17c1.1 0 2-.9 2-2v-4h1.5c1.38 0 2.5-1.12 2.5-2.5S21.88 11 20.5 11z" fill="#5f6368"/></svg><svg style="left:603px;top:26.5px;" width="8" height="8" viewBox="0 0 8 8"><rect x="0.6" y="0.6" width="6.8" height="6.8" stroke="#5f6368" stroke-width="1.1" fill="none"/><rect x="4.3" y="0.6" width="3.1" height="6.8" fill="#5f6368"/></svg><svg style="left:617.5px;top:25px;" width="11" height="11" viewBox="0 0 11 11"><circle cx="5.5" cy="5.5" r="5.5" fill="#3d9be9"/><text x="5.5" y="8" font-size="6.5" text-anchor="middle" fill="#fff" font-family="Liberation Sans" font-weight="700">AE</text></svg><svg style="left:637.5px;top:26px;" width="3" height="9" viewBox="0 0 3 9"><circle cx="1.5" cy="1.2" r="0.8" fill="#5f6368"/><circle cx="1.5" cy="4.5" r="0.8" fill="#5f6368"/><circle cx="1.5" cy="7.8" r="0.8" fill="#5f6368"/></svg><div style="left:0px;top:40px;width:650px;height:21px;background:#2aa65a;box-shadow:0 1px 2px rgba(0,0,0,0.25)"></div><div class="t" style="left:10.3px;top:46.86px;font-size:6.82px;line-height:8.87px;color:#fff;font-weight:700;font-family:'Liberation Sans', Arial, sans-serif;transform:scaleX(0.88);transform-origin:0 50%;">Dashboard</div><div class="t" style="left:61.5px;top:46.86px;font-size:6.82px;line-height:8.87px;color:#fff;font-weight:700;font-family:'Liberation Sans', Arial, sans-serif;transform:scaleX(0.88);transform-origin:0 50%;">Manager</div><div class="t" style="left:106.4px;top:46.86px;font-size:6.82px;line-height:8.87px;color:#fff;font-weight:700;font-family:'Liberation Sans', Arial, sans-serif;transform:scaleX(0.88);transform-origin:0 50%;">Designer</div><div class="t" style="left:152px;top:46.86px;font-size:6.82px;line-height:8.87px;color:#fff;font-weight:700;font-family:'Liberation Sans', Arial, sans-serif;transform:scaleX(0.88);transform-origin:0 50%;">Approvals</div><div class="t" style="left:201.2px;top:46.86px;font-size:6.82px;line-height:8.87px;color:#fff;font-weight:700;font-family:'Liberation Sans', Arial, sans-serif;transform:scaleX(0.88);transform-origin:0 50%;">Records</div><div class="t" style="left:245.4px;top:46.86px;font-size:6.82px;line-height:8.87px;color:#fff;font-weight:700;font-family:'Liberation Sans', Arial, sans-serif;transform:scaleX(0.88);transform-origin:0 50%;text-decoration:underline;text-underline-offset:1px;text-decoration-thickness:0.6px">History</div><div class="t" style="left:285.9px;top:46.86px;font-size:6.82px;line-height:8.87px;color:#fff;font-weight:700;font-family:'Liberation Sans', Arial, sans-serif;transform:scaleX(0.88);transform-origin:0 50%;">Users</div><div class="t" style="left:322.4px;top:46.86px;font-size:6.82px;line-height:8.87px;color:#fff;font-weight:700;font-family:'Liberation Sans', Arial, sans-serif;transform:scaleX(0.88);transform-origin:0 50%;">Profiles</div><svg style="left:528px;top:45.6px;" width="9" height="10.4" viewBox="0 0 9 10.4"><path d="M4.5 0.8 Q7.6 1 7.4 4.6 L7.6 7.2 L8.6 8.2 H0.4 L1.4 7.2 L1.6 4.6 Q1.4 1 4.5 0.8 Z" fill="#fff"/><circle cx="4.5" cy="9.2" r="1" fill="#fff"/><circle cx="4.5" cy="0.9" r="0.7" fill="#fff"/></svg><div class="t" style="left:548px;top:46.86px;font-size:6.82px;line-height:8.87px;color:#fff;font-weight:700;font-family:'Liberation Sans', Arial, sans-serif;transform:scaleX(0.88);transform-origin:0 50%;">Logout (admin)</div><div style="left:602px;top:45px;width:38px;height:10.6px;background:#fff;border-radius:1.5px"></div><div class="t" style="left:605.4px;top:46.77px;font-size:6.82px;line-height:8.87px;color:#333;font-weight:400;font-family:'Liberation Sans', Arial, sans-serif;transform:scaleX(0.88);transform-origin:0 50%;">Language</div><svg style="left:633.5px;top:49.3px;" width="4" height="3" viewBox="0 0 4 3"><path d="M0 0 H4 L2 2.2 Z" fill="#333"/></svg><div class="t" style="left:3.5px;top:69.55px;font-size:7.16px;line-height:9.31px;color:#3a3a3a;font-weight:700;font-family:'Liberation Sans', Arial, sans-serif;transform:scaleX(0.88);transform-origin:0 50%;">Show</div><div style="left:22.2px;top:68.6px;width:26.2px;height:9.6px;background:#fff;border:1px solid #a9a9a9;border-radius:1.5px;box-sizing:border-box"></div><div class="t" style="left:24.6px;top:69.4px;font-size:7.39px;line-height:9.61px;color:#222;font-weight:400;font-family:'Liberation Sans', Arial, sans-serif;transform:scaleX(0.88);transform-origin:0 50%;">10</div><svg style="left:41.2px;top:72.1px;" width="5" height="4" viewBox="0 0 5 4"><path d="M0.5 0.6 L2.5 2.8 L4.5 0.6" stroke="#222" stroke-width="1.1" fill="none"/></svg><div class="t" style="left:50.6px;top:69.55px;font-size:7.16px;line-height:9.31px;color:#3a3a3a;font-weight:700;font-family:'Liberation Sans', Arial, sans-serif;transform:scaleX(0.88);transform-origin:0 50%;">entries</div><div style="left:73.2px;top:68.4px;width:9.8px;height:10.8px;background:#86b7e6;border-radius:1.5px"></div><div class="t" style="left:73.1px;top:69.84px;width:10px;text-align:center;font-size:6.25px;line-height:8.12px;color:#fff;font-weight:700;font-family:'Liberation Sans', Arial, sans-serif;transform:scaleX(0.88);transform-origin:50% 50%;">&lt;</div><div class="t" style="left:85px;top:69.55px;font-size:7.16px;line-height:9.31px;color:#3a3a3a;font-weight:700;font-family:'Liberation Sans', Arial, sans-serif;transform:scaleX(0.88);transform-origin:0 50%;">1 / 3</div><div style="left:99.4px;top:68.4px;width:9.6px;height:10.8px;background:#3d88d1;border-radius:1.5px"></div><div class="t" style="left:99.2px;top:69.84px;width:10px;text-align:center;font-size:6.25px;line-height:8.12px;color:#fff;font-weight:700;font-family:'Liberation Sans', Arial, sans-serif;transform:scaleX(0.88);transform-origin:50% 50%;">&gt;</div><div class="t" style="left:111.2px;top:69.55px;font-size:7.16px;line-height:9.31px;color:#3a3a3a;font-weight:700;font-family:'Liberation Sans', Arial, sans-serif;transform:scaleX(0.88);transform-origin:0 50%;">Total entries: 23</div><div class="t" style="left:381.7px;top:69.55px;font-size:7.16px;line-height:9.31px;color:#3a3a3a;font-weight:700;font-family:'Liberation Sans', Arial, sans-serif;transform:scaleX(0.88);transform-origin:0 50%;">from</div><div style="left:399.2px;top:68.2px;width:59.3px;height:10.6px;background:#fff;border:1px solid #ddd;border-radius:1.5px;box-sizing:border-box"></div><div class="t" style="left:401px;top:69.55px;font-size:7.16px;line-height:9.31px;color:#555;font-weight:400;font-family:'Liberation Sans', Arial, sans-serif;transform:scaleX(0.88);transform-origin:0 50%;">05-11-2022</div><div class="t" style="left:466.5px;top:69.55px;font-size:7.16px;line-height:9.31px;color:#3a3a3a;font-weight:700;font-family:'Liberation Sans', Arial, sans-serif;transform:scaleX(0.88);transform-origin:0 50%;">to</div><div style="left:475.1px;top:68.2px;width:59.4px;height:10.6px;background:#fff;border:1px solid #ddd;border-radius:1.5px;box-sizing:border-box"></div><div class="t" style="left:477px;top:69.55px;font-size:7.16px;line-height:9.31px;color:#555;font-weight:400;font-family:'Liberation Sans', Arial, sans-serif;transform:scaleX(0.88);transform-origin:0 50%;">06-11-2022</div><div style="left:542.4px;top:68.2px;width:74.9px;height:10.6px;background:#fff;border:1px solid #ddd;border-radius:1.5px;box-sizing:border-box"></div><div style="left:620.2px;top:68.2px;width:25px;height:10.6px;background:#3d88d1;border-radius:1.5px"></div><div class="t" style="left:617.7px;top:69.06px;width:30px;text-align:center;font-size:6.82px;line-height:8.87px;color:#fff;font-weight:400;font-family:'Liberation Sans', Arial, sans-serif;transform:scaleX(0.88);transform-origin:50% 50%;">Search</div><div style="left:5.4px;top:85px;width:650px;height:18px;background:#fff;border-bottom:1px solid #dcdcdc"></div><div class="t" style="left:10.4px;top:88.84px;font-size:7.16px;line-height:9.31px;color:#8c8c8c;font-weight:400;font-family:'Liberation Sans', Arial, sans-serif;transform:scaleX(0.88);transform-origin:0 50%;">Status</div><div class="t" style="left:69.7px;top:88.92px;font-size:7.05px;line-height:9.17px;color:#222;font-weight:700;font-family:'Liberation Sans', Arial, sans-serif;transform:scaleX(0.88);transform-origin:0 50%;">Date</div><svg style="left:89.9px;top:91.3px;" width="5" height="4.4" viewBox="0 0 5 4.4"><path d="M0 0 H5 L2.5 4.2 Z" fill="#e5391a"/></svg><div class="t" style="left:136.8px;top:88.92px;font-size:7.05px;line-height:9.17px;color:#555;font-weight:400;font-family:'Liberation Sans', Arial, sans-serif;transform:scaleX(0.88);transform-origin:0 50%;">Id</div><div class="t" style="left:159.3px;top:88.84px;font-size:7.16px;line-height:9.31px;color:#8c8c8c;font-weight:400;font-family:'Liberation Sans', Arial, sans-serif;transform:scaleX(0.88);transform-origin:0 50%;">Name</div><div class="t" style="left:259px;top:88.92px;font-size:7.05px;line-height:9.17px;color:#b0b0b0;font-weight:400;font-family:'Liberation Sans', Arial, sans-serif;transform:scaleX(0.88);transform-origin:0 50%;">Launch type</div><div class="t" style="left:309.6px;top:88.92px;font-size:7.05px;line-height:9.17px;color:#222;font-weight:700;font-family:'Liberation Sans', Arial, sans-serif;transform:scaleX(0.88);transform-origin:0 50%;">Description</div><svg style="left:9.4px;top:108.10000000000001px" width="18.1" height="17.9" viewBox="0 0 42 42" preserveAspectRatio="none"><rect width="42" height="42" fill="#2aa65a"/><path d="M12.6 21.4 L18 26.6 L28.6 16" stroke="#fff" stroke-width="4.8" fill="none" stroke-linecap="round" stroke-linejoin="round"/></svg><div class="t" style="left:34.5px;top:111.29px;font-size:7.39px;line-height:9.61px;color:#4a4a4a;font-weight:400;font-family:'Liberation Sans', Arial, sans-serif;transform:scaleX(0.88);transform-origin:0 50%;">Done</div><div class="t" style="left:69.6px;top:107.7px;font-size:7.39px;line-height:9.61px;color:#4a4a4a;font-weight:400;font-family:'Liberation Sans', Arial, sans-serif;transform:scaleX(0.88);transform-origin:0 50%;">05-11-2022</div><div class="t" style="left:69.6px;top:116.5px;font-size:7.39px;line-height:9.61px;color:#4a4a4a;font-weight:400;font-family:'Liberation Sans', Arial, sans-serif;transform:scaleX(0.88);transform-origin:0 50%;">22:37:02</div><div class="t" style="left:136.3px;top:107.7px;font-size:7.39px;line-height:9.61px;color:#4a4a4a;font-weight:400;font-family:'Liberation Sans', Arial, sans-serif;transform:scaleX(0.88);transform-origin:0 50%;">69</div><div class="t" style="left:159.3px;top:107.7px;font-size:7.39px;line-height:9.61px;color:#4a4a4a;font-weight:400;font-family:'Liberation Sans', Arial, sans-serif;transform:scaleX(0.88);transform-origin:0 50%;">Workflow_Startup</div><div class="t" style="left:259.6px;top:107.7px;font-size:7.39px;line-height:9.61px;color:#4a4a4a;font-weight:400;font-family:'Liberation Sans', Arial, sans-serif;transform:scaleX(0.88);transform-origin:0 50%;">Startup</div><div class="t" style="left:309.6px;top:107.7px;font-size:7.39px;line-height:9.61px;color:#4a4a4a;font-weight:400;font-family:'Liberation Sans', Arial, sans-serif;transform:scaleX(0.88);transform-origin:0 50%;">Workflow_Startup</div><div style="left:5.4px;top:130.5px;width:650px;height:27.1px;background:#ededed"></div><div style="left:5.4px;top:130.1px;width:650px;height:0.8px;background:#e2e2e2"></div><svg style="left:9.4px;top:135.2px" width="18.1" height="17.9" viewBox="0 0 42 42" preserveAspectRatio="none"><rect width="42" height="42" fill="#2aa65a"/><path d="M12.6 21.4 L18 26.6 L28.6 16" stroke="#fff" stroke-width="4.8" fill="none" stroke-linecap="round" stroke-linejoin="round"/></svg><div class="t" style="left:34.5px;top:138.39px;font-size:7.39px;line-height:9.61px;color:#4a4a4a;font-weight:400;font-family:'Liberation Sans', Arial, sans-serif;transform:scaleX(0.88);transform-origin:0 50%;">Done</div><div class="t" style="left:69.6px;top:134.79px;font-size:7.39px;line-height:9.61px;color:#4a4a4a;font-weight:400;font-family:'Liberation Sans', Arial, sans-serif;transform:scaleX(0.88);transform-origin:0 50%;">05-11-2022</div><div class="t" style="left:69.6px;top:143.59px;font-size:7.39px;line-height:9.61px;color:#4a4a4a;font-weight:400;font-family:'Liberation Sans', Arial, sans-serif;transform:scaleX(0.88);transform-origin:0 50%;">19:36:34</div><div class="t" style="left:136.3px;top:134.79px;font-size:7.39px;line-height:9.61px;color:#4a4a4a;font-weight:400;font-family:'Liberation Sans', Arial, sans-serif;transform:scaleX(0.88);transform-origin:0 50%;">41</div><div class="t" style="left:159.3px;top:134.79px;font-size:7.39px;line-height:9.61px;color:#4a4a4a;font-weight:400;font-family:'Liberation Sans', Arial, sans-serif;transform:scaleX(0.88);transform-origin:0 50%;">Workflow_Wait</div><div class="t" style="left:259.6px;top:134.79px;font-size:7.39px;line-height:9.61px;color:#4a4a4a;font-weight:400;font-family:'Liberation Sans', Arial, sans-serif;transform:scaleX(0.88);transform-origin:0 50%;">Trigger</div><div class="t" style="left:309.6px;top:134.79px;font-size:7.39px;line-height:9.61px;color:#4a4a4a;font-weight:400;font-family:'Liberation Sans', Arial, sans-serif;transform:scaleX(0.88);transform-origin:0 50%;">Workflow_Wait</div><div style="left:5.4px;top:157.2px;width:650px;height:0.8px;background:#e2e2e2"></div><svg style="left:9.4px;top:162.3px" width="18.1" height="17.9" viewBox="0 0 42 42" preserveAspectRatio="none"><rect width="42" height="42" fill="#d5005d"/><path d="M21 12 L31.8 30.6 H10.2 Z" fill="#fff" stroke="#fff" stroke-width="2" stroke-linejoin="round"/><rect x="19.4" y="17.6" width="3.2" height="6.8" fill="#d5005d"/><rect x="19.4" y="25.6" width="3.2" height="3" fill="#d5005d"/></svg><div class="t" style="left:34.5px;top:165.5px;font-size:7.39px;line-height:9.61px;color:#4a4a4a;font-weight:400;font-family:'Liberation Sans', Arial, sans-serif;transform:scaleX(0.88);transform-origin:0 50%;">Warning</div><div class="t" style="left:69.6px;top:161.9px;font-size:7.39px;line-height:9.61px;color:#4a4a4a;font-weight:400;font-family:'Liberation Sans', Arial, sans-serif;transform:scaleX(0.88);transform-origin:0 50%;">05-11-2022</div><div class="t" style="left:69.6px;top:170.7px;font-size:7.39px;line-height:9.61px;color:#4a4a4a;font-weight:400;font-family:'Liberation Sans', Arial, sans-serif;transform:scaleX(0.88);transform-origin:0 50%;">19:35:12</div><div class="t" style="left:136.3px;top:161.9px;font-size:7.39px;line-height:9.61px;color:#4a4a4a;font-weight:400;font-family:'Liberation Sans', Arial, sans-serif;transform:scaleX(0.88);transform-origin:0 50%;">25</div><div class="t" style="left:159.3px;top:161.9px;font-size:7.39px;line-height:9.61px;color:#4a4a4a;font-weight:400;font-family:'Liberation Sans', Arial, sans-serif;transform:scaleX(0.88);transform-origin:0 50%;">Workflow_Http</div><div class="t" style="left:259.6px;top:161.9px;font-size:7.39px;line-height:9.61px;color:#4a4a4a;font-weight:400;font-family:'Liberation Sans', Arial, sans-serif;transform:scaleX(0.88);transform-origin:0 50%;">Trigger</div><div class="t" style="left:309.6px;top:161.9px;font-size:7.39px;line-height:9.61px;color:#4a4a4a;font-weight:400;font-family:'Liberation Sans', Arial, sans-serif;transform:scaleX(0.88);transform-origin:0 50%;">Workflow_Http</div><div style="left:5.4px;top:184.3px;width:650px;height:0.8px;background:#e2e2e2"></div><svg style="left:9.4px;top:189.4px" width="18.1" height="17.9" viewBox="0 0 42 42" preserveAspectRatio="none"><rect width="42" height="42" fill="#2aa65a"/><path d="M12.6 21.4 L18 26.6 L28.6 16" stroke="#fff" stroke-width="4.8" fill="none" stroke-linecap="round" stroke-linejoin="round"/></svg><div class="t" style="left:34.5px;top:192.59px;font-size:7.39px;line-height:9.61px;color:#4a4a4a;font-weight:400;font-family:'Liberation Sans', Arial, sans-serif;transform:scaleX(0.88);transform-origin:0 50%;">Done</div><div class="t" style="left:69.6px;top:189.0px;font-size:7.39px;line-height:9.61px;color:#4a4a4a;font-weight:400;font-family:'Liberation Sans', Arial, sans-serif;transform:scaleX(0.88);transform-origin:0 50%;">05-11-2022</div><div class="t" style="left:69.6px;top:197.8px;font-size:7.39px;line-height:9.61px;color:#4a4a4a;font-weight:400;font-family:'Liberation Sans', Arial, sans-serif;transform:scaleX(0.88);transform-origin:0 50%;">19:35:10</div><div class="t" style="left:136.3px;top:189.0px;font-size:7.39px;line-height:9.61px;color:#4a4a4a;font-weight:400;font-family:'Liberation Sans', Arial, sans-serif;transform:scaleX(0.88);transform-origin:0 50%;">22</div><div class="t" style="left:159.3px;top:189.0px;font-size:7.39px;line-height:9.61px;color:#4a4a4a;font-weight:400;font-family:'Liberation Sans', Arial, sans-serif;transform:scaleX(0.88);transform-origin:0 50%;">Workflow_Sql</div><div class="t" style="left:259.6px;top:189.0px;font-size:7.39px;line-height:9.61px;color:#4a4a4a;font-weight:400;font-family:'Liberation Sans', Arial, sans-serif;transform:scaleX(0.88);transform-origin:0 50%;">Trigger</div><div class="t" style="left:309.6px;top:189.0px;font-size:7.39px;line-height:9.61px;color:#4a4a4a;font-weight:400;font-family:'Liberation Sans', Arial, sans-serif;transform:scaleX(0.88);transform-origin:0 50%;">Workflow_Sql</div><div style="left:5.4px;top:211.4px;width:650px;height:0.8px;background:#e2e2e2"></div><svg style="left:9.4px;top:216.5px" width="18.1" height="17.9" viewBox="0 0 42 42" preserveAspectRatio="none"><rect width="42" height="42" fill="#2aa65a"/><path d="M12.6 21.4 L18 26.6 L28.6 16" stroke="#fff" stroke-width="4.8" fill="none" stroke-linecap="round" stroke-linejoin="round"/></svg><div class="t" style="left:34.5px;top:219.69px;font-size:7.39px;line-height:9.61px;color:#4a4a4a;font-weight:400;font-family:'Liberation Sans', Arial, sans-serif;transform:scaleX(0.88);transform-origin:0 50%;">Done</div><div class="t" style="left:69.6px;top:216.09px;font-size:7.39px;line-height:9.61px;color:#4a4a4a;font-weight:400;font-family:'Liberation Sans', Arial, sans-serif;transform:scaleX(0.88);transform-origin:0 50%;">05-11-2022</div><div class="t" style="left:69.6px;top:224.9px;font-size:7.39px;line-height:9.61px;color:#4a4a4a;font-weight:400;font-family:'Liberation Sans', Arial, sans-serif;transform:scaleX(0.88);transform-origin:0 50%;">19:35:06</div><div class="t" style="left:136.3px;top:216.09px;font-size:7.39px;line-height:9.61px;color:#4a4a4a;font-weight:400;font-family:'Liberation Sans', Arial, sans-serif;transform:scaleX(0.88);transform-origin:0 50%;">21</div><div class="t" style="left:159.3px;top:216.09px;font-size:7.39px;line-height:9.61px;color:#4a4a4a;font-weight:400;font-family:'Liberation Sans', Arial, sans-serif;transform:scaleX(0.88);transform-origin:0 50%;">Workflow_Tgz</div><div class="t" style="left:259.6px;top:216.09px;font-size:7.39px;line-height:9.61px;color:#4a4a4a;font-weight:400;font-family:'Liberation Sans', Arial, sans-serif;transform:scaleX(0.88);transform-origin:0 50%;">Trigger</div><div class="t" style="left:309.6px;top:216.09px;font-size:7.39px;line-height:9.61px;color:#4a4a4a;font-weight:400;font-family:'Liberation Sans', Arial, sans-serif;transform:scaleX(0.88);transform-origin:0 50%;">Workflow_Tgz</div><div style="left:5.4px;top:238.5px;width:650px;height:0.8px;background:#e2e2e2"></div><svg style="left:9.4px;top:243.6px" width="18.1" height="17.9" viewBox="0 0 42 42" preserveAspectRatio="none"><rect width="42" height="42" fill="#2aa65a"/><path d="M12.6 21.4 L18 26.6 L28.6 16" stroke="#fff" stroke-width="4.8" fill="none" stroke-linecap="round" stroke-linejoin="round"/></svg><div class="t" style="left:34.5px;top:246.79px;font-size:7.39px;line-height:9.61px;color:#4a4a4a;font-weight:400;font-family:'Liberation Sans', Arial, sans-serif;transform:scaleX(0.88);transform-origin:0 50%;">Done</div><div class="t" style="left:69.6px;top:243.19px;font-size:7.39px;line-height:9.61px;color:#4a4a4a;font-weight:400;font-family:'Liberation Sans', Arial, sans-serif;transform:scaleX(0.88);transform-origin:0 50%;">05-11-2022</div><div class="t" style="left:69.6px;top:252.0px;font-size:7.39px;line-height:9.61px;color:#4a4a4a;font-weight:400;font-family:'Liberation Sans', Arial, sans-serif;transform:scaleX(0.88);transform-origin:0 50%;">19:35:05</div><div class="t" style="left:136.3px;top:243.19px;font-size:7.39px;line-height:9.61px;color:#4a4a4a;font-weight:400;font-family:'Liberation Sans', Arial, sans-serif;transform:scaleX(0.88);transform-origin:0 50%;">20</div><div class="t" style="left:159.3px;top:243.19px;font-size:7.39px;line-height:9.61px;color:#4a4a4a;font-weight:400;font-family:'Liberation Sans', Arial, sans-serif;transform:scaleX(0.88);transform-origin:0 50%;">Workflow_Tar</div><div class="t" style="left:259.6px;top:243.19px;font-size:7.39px;line-height:9.61px;color:#4a4a4a;font-weight:400;font-family:'Liberation Sans', Arial, sans-serif;transform:scaleX(0.88);transform-origin:0 50%;">Trigger</div><div class="t" style="left:309.6px;top:243.19px;font-size:7.39px;line-height:9.61px;color:#4a4a4a;font-weight:400;font-family:'Liberation Sans', Arial, sans-serif;transform:scaleX(0.88);transform-origin:0 50%;">Workflow_Tar</div><div style="left:5.4px;top:265.6px;width:650px;height:0.8px;background:#e2e2e2"></div><svg style="left:9.4px;top:270.7px" width="18.1" height="17.9" viewBox="0 0 42 42" preserveAspectRatio="none"><rect width="42" height="42" fill="#2aa65a"/><path d="M12.6 21.4 L18 26.6 L28.6 16" stroke="#fff" stroke-width="4.8" fill="none" stroke-linecap="round" stroke-linejoin="round"/></svg><div class="t" style="left:34.5px;top:273.9px;font-size:7.39px;line-height:9.61px;color:#4a4a4a;font-weight:400;font-family:'Liberation Sans', Arial, sans-serif;transform:scaleX(0.88);transform-origin:0 50%;">Done</div><div class="t" style="left:69.6px;top:270.29px;font-size:7.39px;line-height:9.61px;color:#4a4a4a;font-weight:400;font-family:'Liberation Sans', Arial, sans-serif;transform:scaleX(0.88);transform-origin:0 50%;">05-11-2022</div><div class="t" style="left:69.6px;top:279.1px;font-size:7.39px;line-height:9.61px;color:#4a4a4a;font-weight:400;font-family:'Liberation Sans', Arial, sans-serif;transform:scaleX(0.88);transform-origin:0 50%;">19:35:03</div><div class="t" style="left:136.3px;top:270.29px;font-size:7.39px;line-height:9.61px;color:#4a4a4a;font-weight:400;font-family:'Liberation Sans', Arial, sans-serif;transform:scaleX(0.88);transform-origin:0 50%;">19</div><div class="t" style="left:159.3px;top:270.29px;font-size:7.39px;line-height:9.61px;color:#4a4a4a;font-weight:400;font-family:'Liberation Sans', Arial, sans-serif;transform:scaleX(0.88);transform-origin:0 50%;">Workflow_Zip</div><div class="t" style="left:259.6px;top:270.29px;font-size:7.39px;line-height:9.61px;color:#4a4a4a;font-weight:400;font-family:'Liberation Sans', Arial, sans-serif;transform:scaleX(0.88);transform-origin:0 50%;">Trigger</div><div class="t" style="left:309.6px;top:270.29px;font-size:7.39px;line-height:9.61px;color:#4a4a4a;font-weight:400;font-family:'Liberation Sans', Arial, sans-serif;transform:scaleX(0.88);transform-origin:0 50%;">Workflow_Zip</div><div style="left:5.4px;top:292.7px;width:650px;height:0.8px;background:#e2e2e2"></div><svg style="left:9.4px;top:297.8px" width="18.1" height="17.9" viewBox="0 0 42 42" preserveAspectRatio="none"><rect width="42" height="42" fill="#d5005d"/><path d="M21 12 L31.8 30.6 H10.2 Z" fill="#fff" stroke="#fff" stroke-width="2" stroke-linejoin="round"/><rect x="19.4" y="17.6" width="3.2" height="6.8" fill="#d5005d"/><rect x="19.4" y="25.6" width="3.2" height="3" fill="#d5005d"/></svg><div class="t" style="left:34.5px;top:301.0px;font-size:7.39px;line-height:9.61px;color:#4a4a4a;font-weight:400;font-family:'Liberation Sans', Arial, sans-serif;transform:scaleX(0.88);transform-origin:0 50%;">Warning</div><div class="t" style="left:69.6px;top:297.39px;font-size:7.39px;line-height:9.61px;color:#4a4a4a;font-weight:400;font-family:'Liberation Sans', Arial, sans-serif;transform:scaleX(0.88);transform-origin:0 50%;">05-11-2022</div><div class="t" style="left:69.6px;top:306.2px;font-size:7.39px;line-height:9.61px;color:#4a4a4a;font-weight:400;font-family:'Liberation Sans', Arial, sans-serif;transform:scaleX(0.88);transform-origin:0 50%;">19:35:03</div><div class="t" style="left:136.3px;top:297.39px;font-size:7.39px;line-height:9.61px;color:#4a4a4a;font-weight:400;font-family:'Liberation Sans', Arial, sans-serif;transform:scaleX(0.88);transform-origin:0 50%;">16</div><div class="t" style="left:159.3px;top:297.39px;font-size:7.39px;line-height:9.61px;color:#4a4a4a;font-weight:400;font-family:'Liberation Sans', Arial, sans-serif;transform:scaleX(0.88);transform-origin:0 50%;">Workflow_Twitter</div><div class="t" style="left:259.6px;top:297.39px;font-size:7.39px;line-height:9.61px;color:#4a4a4a;font-weight:400;font-family:'Liberation Sans', Arial, sans-serif;transform:scaleX(0.88);transform-origin:0 50%;">Trigger</div><div class="t" style="left:309.6px;top:297.39px;font-size:7.39px;line-height:9.61px;color:#4a4a4a;font-weight:400;font-family:'Liberation Sans', Arial, sans-serif;transform:scaleX(0.88);transform-origin:0 50%;">Workflow_Twitter</div><div style="left:5.4px;top:319.8px;width:650px;height:0.8px;background:#e2e2e2"></div><svg style="left:9.4px;top:324.90000000000003px" width="18.1" height="17.9" viewBox="0 0 42 42" preserveAspectRatio="none"><rect width="42" height="42" fill="#d5005d"/><path d="M21 12 L31.8 30.6 H10.2 Z" fill="#fff" stroke="#fff" stroke-width="2" stroke-linejoin="round"/><rect x="19.4" y="17.6" width="3.2" height="6.8" fill="#d5005d"/><rect x="19.4" y="25.6" width="3.2" height="3" fill="#d5005d"/></svg><div class="t" style="left:34.5px;top:328.1px;font-size:7.39px;line-height:9.61px;color:#4a4a4a;font-weight:400;font-family:'Liberation Sans', Arial, sans-serif;transform:scaleX(0.88);transform-origin:0 50%;">Warning</div><div class="t" style="left:69.6px;top:324.5px;font-size:7.39px;line-height:9.61px;color:#4a4a4a;font-weight:400;font-family:'Liberation Sans', Arial, sans-serif;transform:scaleX(0.88);transform-origin:0 50%;">05-11-2022</div><div class="t" style="left:69.6px;top:333.3px;font-size:7.39px;line-height:9.61px;color:#4a4a4a;font-weight:400;font-family:'Liberation Sans', Arial, sans-serif;transform:scaleX(0.88);transform-origin:0 50%;">19:35:01</div><div class="t" style="left:136.3px;top:324.5px;font-size:7.39px;line-height:9.61px;color:#4a4a4a;font-weight:400;font-family:'Liberation Sans', Arial, sans-serif;transform:scaleX(0.88);transform-origin:0 50%;">13</div><div class="t" style="left:159.3px;top:324.5px;font-size:7.39px;line-height:9.61px;color:#4a4a4a;font-weight:400;font-family:'Liberation Sans', Arial, sans-serif;transform:scaleX(0.88);transform-origin:0 50%;">Workflow_vlc</div><div class="t" style="left:259.6px;top:324.5px;font-size:7.39px;line-height:9.61px;color:#4a4a4a;font-weight:400;font-family:'Liberation Sans', Arial, sans-serif;transform:scaleX(0.88);transform-origin:0 50%;">Trigger</div><div class="t" style="left:309.6px;top:324.5px;font-size:7.39px;line-height:9.61px;color:#4a4a4a;font-weight:400;font-family:'Liberation Sans', Arial, sans-serif;transform:scaleX(0.88);transform-origin:0 50%;">Workflow_vlc</div><div style="left:5.4px;top:346.9px;width:650px;height:0.8px;background:#e2e2e2"></div><svg style="left:9.4px;top:352.0px" width="18.1" height="17.9" viewBox="0 0 42 42" preserveAspectRatio="none"><rect width="42" height="42" fill="#2aa65a"/><path d="M12.6 21.4 L18 26.6 L28.6 16" stroke="#fff" stroke-width="4.8" fill="none" stroke-linecap="round" stroke-linejoin="round"/></svg><div class="t" style="left:34.5px;top:355.2px;font-size:7.39px;line-height:9.61px;color:#4a4a4a;font-weight:400;font-family:'Liberation Sans', Arial, sans-serif;transform:scaleX(0.88);transform-origin:0 50%;">Done</div><div class="t" style="left:69.6px;top:351.59px;font-size:7.39px;line-height:9.61px;color:#4a4a4a;font-weight:400;font-family:'Liberation Sans', Arial, sans-serif;transform:scaleX(0.88);transform-origin:0 50%;">05-11-2022</div><div class="t" style="left:69.6px;top:360.4px;font-size:7.39px;line-height:9.61px;color:#4a4a4a;font-weight:400;font-family:'Liberation Sans', Arial, sans-serif;transform:scaleX(0.88);transform-origin:0 50%;">19:34:59</div><div class="t" style="left:136.3px;top:351.59px;font-size:7.39px;line-height:9.61px;color:#4a4a4a;font-weight:400;font-family:'Liberation Sans', Arial, sans-serif;transform:scaleX(0.88);transform-origin:0 50%;">15</div><div class="t" style="left:159.3px;top:351.59px;font-size:7.39px;line-height:9.61px;color:#4a4a4a;font-weight:400;font-family:'Liberation Sans', Arial, sans-serif;transform:scaleX(0.88);transform-origin:0 50%;">Workflow_Touch</div><div class="t" style="left:259.6px;top:351.59px;font-size:7.39px;line-height:9.61px;color:#4a4a4a;font-weight:400;font-family:'Liberation Sans', Arial, sans-serif;transform:scaleX(0.88);transform-origin:0 50%;">Trigger</div><div class="t" style="left:309.6px;top:351.59px;font-size:7.39px;line-height:9.61px;color:#4a4a4a;font-weight:400;font-family:'Liberation Sans', Arial, sans-serif;transform:scaleX(0.88);transform-origin:0 50%;">Workflow_Touch</div></div><div style="position:absolute;left:496px;top:113px;width:171px;height:1px;background:#95989d;z-index:10"></div><div style="position:absolute;left:496px;top:113px;width:1px;height:428px;background:#7a98ad;z-index:10"></div><div style="position:absolute;left:19px;top:408px;width:477px;height:1px;background:#8e9196;z-index:10"></div><div style="position:absolute;left:19px;top:408px;width:1px;height:33px;background:#7a98ad;z-index:10"></div><div style="position:absolute;left:499px;top:444px;width:647px;height:1px;background:#8e9196;z-index:10"></div><div style="position:absolute;left:499px;top:444px;width:1px;height:393px;background:#7a98ad;z-index:10"></div></body></html>
